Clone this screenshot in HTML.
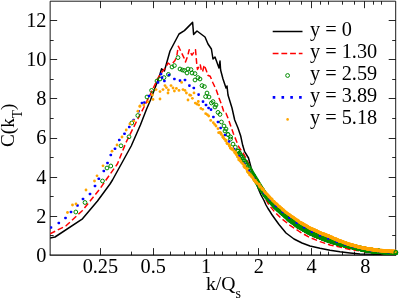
<!DOCTYPE html>
<html><head><meta charset="utf-8"><title>C(kT) vs k/Qs</title>
<style>
html,body{margin:0;padding:0;background:#fff;}
body{width:399px;height:300px;overflow:hidden;position:relative;font-family:"Liberation Serif",serif;}
</style></head><body>
<svg width="399" height="300" viewBox="0 0 399 300" style="position:absolute;left:0;top:0;will-change:transform">
<rect x="0" y="0" width="399" height="300" fill="#fff"/>
<g stroke="#000" stroke-width="1" fill="none">
<path d="M50.15 255.1V1.2H395.7V255.1" stroke-width="0.9"/>
<g stroke-width="0.85">
<path d="M49.65 255.1H396.2" stroke-width="1.15"/>
<path d="M100.5 255.1v-7M100.5 1.2v7"/>
<path d="M153.5 255.1v-7M153.5 1.2v7"/>
<path d="M206.5 255.1v-7M206.5 1.2v7"/>
<path d="M258.5 255.1v-7M258.5 1.2v7"/>
<path d="M311.5 255.1v-7M311.5 1.2v7"/>
<path d="M364.5 255.1v-7M364.5 1.2v7"/>
<path d="M131.5 255.1v-3.5M131.5 1.2v3.5"/>
<path d="M170.5 255.1v-3.5M170.5 1.2v3.5"/>
<path d="M184.5 255.1v-3.5M184.5 1.2v3.5"/>
<path d="M195.5 255.1v-3.5M195.5 1.2v3.5"/>
<path d="M214.5 255.1v-3.5M214.5 1.2v3.5"/>
<path d="M222.5 255.1v-3.5M222.5 1.2v3.5"/>
<path d="M236.5 255.1v-3.5M236.5 1.2v3.5"/>
<path d="M248.5 255.1v-3.5M248.5 1.2v3.5"/>
<path d="M267.5 255.1v-3.5M267.5 1.2v3.5"/>
<path d="M275.5 255.1v-3.5M275.5 1.2v3.5"/>
<path d="M289.5 255.1v-3.5M289.5 1.2v3.5"/>
<path d="M301.5 255.1v-3.5M301.5 1.2v3.5"/>
<path d="M320.5 255.1v-3.5M320.5 1.2v3.5"/>
<path d="M328.5 255.1v-3.5M328.5 1.2v3.5"/>
<path d="M342.5 255.1v-3.5M342.5 1.2v3.5"/>
<path d="M354.5 255.1v-3.5M354.5 1.2v3.5"/>
<path d="M373.5 255.1v-3.5M373.5 1.2v3.5"/>
<path d="M381.5 255.1v-3.5M381.5 1.2v3.5"/>
<path d="M50.15 235.5h3.5M395.7 235.5h-3.5"/>
<path d="M50.15 216.5h7M395.7 216.5h-7"/>
<path d="M50.15 196.5h3.5M395.7 196.5h-3.5"/>
<path d="M50.15 177.5h7M395.7 177.5h-7"/>
<path d="M50.15 157.5h3.5M395.7 157.5h-3.5"/>
<path d="M50.15 138.5h7M395.7 138.5h-7"/>
<path d="M50.15 118.5h3.5M395.7 118.5h-3.5"/>
<path d="M50.15 98.5h7M395.7 98.5h-7"/>
<path d="M50.15 79.5h3.5M395.7 79.5h-3.5"/>
<path d="M50.15 59.5h7M395.7 59.5h-7"/>
<path d="M50.15 40.5h3.5M395.7 40.5h-3.5"/>
<path d="M50.15 20.5h7M395.7 20.5h-7"/>
</g></g>
<clipPath id="c"><rect x="50.15" y="1.2" width="348.55" height="253.9"/></clipPath>
<g clip-path="url(#c)">
<polyline fill="none" stroke="#000" stroke-width="1.5" stroke-linejoin="round" points="50.0,238.0 55.0,237.0 82.5,218.8 97.5,201.0 110.0,184.0 112.5,180.0 131.2,146.0 140.4,125.0 146.6,109.0 150.5,100.0 158.0,80.0 160.0,74.0 161.6,68.8 164.4,71.0 170.0,51.0 179.0,34.0 184.4,30.6 192.6,22.4 193.6,34.4 197.0,31.0 205.0,37.0 208.0,44.0 211.4,49.0 213.0,59.0 215.0,57.0 219.0,68.0 220.0,61.0 220.6,70.0 223.0,79.0 226.0,88.0 227.0,86.0 228.0,95.0 232.0,108.0 234.7,120.0 238.0,128.0 240.7,136.0 242.7,145.3 244.5,151.3 248.5,158.0 251.2,168.0 254.0,175.0 258.0,188.0 261.0,195.0 264.0,200.5 266.0,205.0 268.0,208.5 270.0,211.5 272.0,214.8 275.0,219.0 279.0,224.5 286.0,233.0 294.0,239.0 302.0,243.0 310.0,246.0 320.0,248.3 330.0,250.2 340.0,251.8 350.0,253.0 360.0,254.0 396.0,254.6"/>
<polyline fill="none" stroke="#f00" stroke-width="1.5" stroke-linejoin="round" stroke-dasharray="5.8 2.9" points="50.0,233.8 66.0,225.8 82.5,210.5 100.0,188.8 106.0,180.0 117.5,163.8 126.0,142.5 136.0,122.5 143.8,107.5 150.0,95.0 158.0,78.0 162.0,72.0 166.0,67.0 168.0,63.0 170.0,64.5 172.7,63.2 175.0,60.5 176.8,56.0 177.7,50.0 178.3,46.2 180.2,50.0 184.0,57.8 185.5,62.0 187.7,56.0 189.2,49.7 190.0,51.8 192.0,55.2 195.5,49.7 196.7,63.5 197.5,69.5 200.2,64.2 201.2,69.5 202.5,72.0 204.2,65.0 206.5,71.0 207.7,75.2 210.2,76.2 213.0,83.0 216.3,90.0 219.0,98.0 221.6,104.7 223.5,110.7 224.3,113.0 226.0,113.3 228.2,118.7 230.3,124.7 233.3,133.3 236.0,140.0 238.7,146.7 243.3,153.3 245.5,157.3 248.3,163.0 253.3,174.0 258.0,184.0 265.0,198.0 269.0,205.0 275.0,212.3 281.0,218.2 288.0,223.7 290.0,225.3 300.0,232.0 310.0,237.6 320.0,241.6 330.0,245.0 340.0,247.0 350.0,249.4 360.0,251.0 370.0,252.3 380.0,253.2 396.0,254.0"/>
<g fill="none" stroke="#008b00" stroke-width="1.15">
<circle cx="75.8" cy="212.0" r="1.90" stroke-width="1"/>
<circle cx="85.0" cy="202.5" r="1.90" stroke-width="1"/>
<circle cx="102.5" cy="181.0" r="1.90" stroke-width="1"/>
<circle cx="107.0" cy="168.0" r="1.90" stroke-width="1"/>
<circle cx="110.8" cy="166.0" r="1.90" stroke-width="1"/>
<circle cx="121.0" cy="145.8" r="1.90" stroke-width="1"/>
<circle cx="129.0" cy="136.8" r="1.90" stroke-width="1"/>
<circle cx="131.8" cy="123.0" r="1.90" stroke-width="1"/>
<circle cx="137.8" cy="115.5" r="1.90" stroke-width="1"/>
<circle cx="147.0" cy="97.0" r="1.90" stroke-width="1"/>
<circle cx="151.6" cy="90.4" r="1.90" stroke-width="1"/>
<circle cx="157.0" cy="81.0" r="1.90" stroke-width="1"/>
<circle cx="160.0" cy="79.0" r="1.90" stroke-width="1"/>
<circle cx="164.0" cy="77.6" r="1.90" stroke-width="1"/>
<circle cx="168.4" cy="74.4" r="1.90" stroke-width="1"/>
<circle cx="172.0" cy="67.0" r="1.90" stroke-width="1"/>
<circle cx="174.4" cy="65.6" r="1.90" stroke-width="1"/>
<circle cx="178.0" cy="57.6" r="1.90" stroke-width="1"/>
<circle cx="180.0" cy="69.0" r="1.90" stroke-width="1"/>
<circle cx="182.4" cy="70.0" r="1.90" stroke-width="1"/>
<circle cx="184.4" cy="70.4" r="1.90" stroke-width="1"/>
<circle cx="187.0" cy="73.0" r="1.90" stroke-width="1"/>
<circle cx="188.0" cy="69.0" r="1.90" stroke-width="1"/>
<circle cx="191.0" cy="69.6" r="1.90" stroke-width="1"/>
<circle cx="192.0" cy="73.0" r="1.90" stroke-width="1"/>
<circle cx="195.0" cy="73.6" r="1.90" stroke-width="1"/>
<circle cx="195.0" cy="80.0" r="1.90" stroke-width="1"/>
<circle cx="198.0" cy="77.6" r="1.90" stroke-width="1"/>
<circle cx="200.0" cy="79.0" r="1.90" stroke-width="1"/>
<circle cx="202.0" cy="85.6" r="1.90" stroke-width="1"/>
<circle cx="204.4" cy="86.6" r="1.90" stroke-width="1"/>
<circle cx="207.0" cy="93.0" r="1.90" stroke-width="1"/>
<circle cx="205.6" cy="96.6" r="1.90" stroke-width="1"/>
<circle cx="209.0" cy="97.0" r="1.90" stroke-width="1"/>
<circle cx="213.0" cy="101.6" r="1.90" stroke-width="1"/>
<circle cx="211.4" cy="103.0" r="1.90" stroke-width="1"/>
<circle cx="216.0" cy="105.0" r="1.90" stroke-width="1"/>
<circle cx="215.0" cy="107.0" r="1.90" stroke-width="1"/>
<circle cx="218.0" cy="112.4" r="1.90" stroke-width="1"/>
<circle cx="220.0" cy="114.4" r="1.90" stroke-width="1"/>
<circle cx="221.4" cy="122.0" r="1.90" stroke-width="1"/>
<circle cx="224.0" cy="126.0" r="1.90" stroke-width="1"/>
<circle cx="226.0" cy="129.0" r="1.90" stroke-width="1"/>
<circle cx="225.0" cy="131.0" r="1.90" stroke-width="1"/>
<circle cx="228.0" cy="134.4" r="1.90" stroke-width="1"/>
<circle cx="230.6" cy="137.0" r="1.90" stroke-width="1"/>
<circle cx="228.0" cy="134.6" r="1.90" stroke-width="1"/>
<circle cx="230.5" cy="139.1" r="1.90" stroke-width="1"/>
<circle cx="233.0" cy="144.1" r="1.90" stroke-width="1"/>
<circle cx="235.3" cy="147.2" r="1.90" stroke-width="1"/>
<circle cx="237.6" cy="151.0" r="2.00"/>
<circle cx="238.0" cy="151.4" r="2.00"/>
<circle cx="239.4" cy="153.3" r="2.00"/>
<circle cx="240.8" cy="155.6" r="2.00"/>
<circle cx="242.1" cy="157.4" r="2.00"/>
<circle cx="243.4" cy="159.6" r="2.00"/>
<circle cx="244.7" cy="161.3" r="2.00"/>
<circle cx="246.0" cy="163.2" r="2.00"/>
<circle cx="247.2" cy="165.3" r="2.00"/>
<circle cx="248.5" cy="167.6" r="2.00"/>
<circle cx="249.7" cy="169.2" r="2.00"/>
<circle cx="250.9" cy="171.3" r="2.00"/>
<circle cx="252.0" cy="173.4" r="2.00"/>
<circle cx="252.6" cy="174.6" r="2.00"/>
<circle cx="253.2" cy="175.4" r="2.00"/>
<circle cx="253.9" cy="176.4" r="2.00"/>
<circle cx="254.5" cy="177.7" r="2.00"/>
<circle cx="255.1" cy="178.3" r="2.00"/>
<circle cx="255.7" cy="179.7" r="2.00"/>
<circle cx="256.3" cy="180.4" r="2.00"/>
<circle cx="256.8" cy="181.4" r="2.00"/>
<circle cx="257.4" cy="182.3" r="2.00"/>
<circle cx="258.0" cy="183.4" r="2.00"/>
<circle cx="258.6" cy="184.6" r="2.00"/>
<circle cx="259.1" cy="185.1" r="2.00"/>
<circle cx="259.7" cy="186.2" r="2.00"/>
<circle cx="260.3" cy="187.2" r="2.00"/>
<circle cx="260.8" cy="187.9" r="2.00"/>
<circle cx="261.4" cy="188.9" r="2.00"/>
<circle cx="261.9" cy="189.5" r="2.00"/>
<circle cx="262.5" cy="190.3" r="2.00"/>
<circle cx="263.0" cy="191.3" r="2.00"/>
<circle cx="263.6" cy="192.3" r="2.00"/>
<circle cx="264.1" cy="193.1" r="2.00"/>
<circle cx="264.6" cy="193.8" r="2.00"/>
<circle cx="265.2" cy="194.7" r="2.00"/>
<circle cx="265.7" cy="195.3" r="2.00"/>
<circle cx="266.2" cy="195.8" r="2.00"/>
<circle cx="266.7" cy="196.7" r="2.00"/>
<circle cx="267.2" cy="197.2" r="2.00"/>
<circle cx="267.7" cy="197.6" r="2.00"/>
<circle cx="268.3" cy="198.3" r="2.00"/>
<circle cx="268.8" cy="198.9" r="2.00"/>
<circle cx="269.3" cy="199.7" r="2.00"/>
<circle cx="269.8" cy="200.2" r="2.00"/>
<circle cx="270.2" cy="200.5" r="2.00"/>
<circle cx="270.7" cy="201.4" r="2.00"/>
<circle cx="271.2" cy="201.6" r="2.00"/>
<circle cx="271.7" cy="202.3" r="2.00"/>
<circle cx="272.2" cy="203.0" r="2.00"/>
<circle cx="272.7" cy="203.3" r="2.00"/>
<circle cx="273.1" cy="204.0" r="2.00"/>
<circle cx="273.6" cy="204.3" r="2.00"/>
<circle cx="274.1" cy="205.2" r="2.00"/>
<circle cx="274.5" cy="205.8" r="2.00"/>
<circle cx="275.0" cy="206.2" r="2.00"/>
<circle cx="275.5" cy="206.8" r="2.00"/>
<circle cx="275.9" cy="206.9" r="2.00"/>
<circle cx="276.4" cy="207.5" r="2.00"/>
<circle cx="276.8" cy="207.9" r="2.00"/>
<circle cx="277.3" cy="208.3" r="2.00"/>
<circle cx="277.7" cy="208.6" r="2.00"/>
<circle cx="278.2" cy="209.2" r="2.00"/>
<circle cx="278.6" cy="209.7" r="2.00"/>
<circle cx="279.1" cy="209.8" r="2.00"/>
<circle cx="279.5" cy="210.3" r="2.00"/>
<circle cx="279.9" cy="210.4" r="2.00"/>
<circle cx="280.4" cy="211.1" r="2.00"/>
<circle cx="280.8" cy="211.5" r="2.00"/>
<circle cx="281.2" cy="212.0" r="2.00"/>
<circle cx="281.6" cy="212.3" r="2.00"/>
<circle cx="282.1" cy="212.4" r="2.00"/>
<circle cx="282.5" cy="212.9" r="2.00"/>
<circle cx="282.9" cy="213.4" r="2.00"/>
<circle cx="283.3" cy="213.4" r="2.00"/>
<circle cx="283.7" cy="214.0" r="2.00"/>
<circle cx="284.1" cy="214.3" r="2.00"/>
<circle cx="284.5" cy="214.6" r="2.00"/>
<circle cx="285.0" cy="214.9" r="2.00"/>
<circle cx="285.4" cy="215.7" r="2.00"/>
<circle cx="285.8" cy="215.7" r="2.00"/>
<circle cx="286.2" cy="216.1" r="2.00"/>
<circle cx="286.6" cy="216.5" r="2.00"/>
<circle cx="287.0" cy="217.1" r="2.00"/>
<circle cx="287.3" cy="217.1" r="2.00"/>
<circle cx="287.7" cy="217.6" r="2.00"/>
<circle cx="288.1" cy="218.0" r="2.00"/>
<circle cx="288.5" cy="218.6" r="2.00"/>
<circle cx="288.9" cy="218.9" r="2.00"/>
<circle cx="289.3" cy="219.2" r="2.00"/>
<circle cx="289.7" cy="219.3" r="2.00"/>
<circle cx="290.0" cy="219.7" r="2.00"/>
<circle cx="290.4" cy="219.9" r="2.00"/>
<circle cx="290.8" cy="220.5" r="2.00"/>
<circle cx="291.2" cy="220.8" r="2.00"/>
<circle cx="291.5" cy="220.7" r="2.00"/>
<circle cx="291.9" cy="220.9" r="2.00"/>
<circle cx="292.3" cy="221.2" r="2.00"/>
<circle cx="292.7" cy="221.5" r="2.00"/>
<circle cx="293.0" cy="221.9" r="2.00"/>
<circle cx="293.4" cy="222.2" r="2.00"/>
<circle cx="293.7" cy="222.3" r="2.00"/>
<circle cx="294.1" cy="222.4" r="2.00"/>
<circle cx="294.5" cy="222.9" r="2.00"/>
<circle cx="294.8" cy="223.2" r="2.00"/>
<circle cx="295.2" cy="223.5" r="2.00"/>
<circle cx="295.5" cy="224.0" r="2.00"/>
<circle cx="295.9" cy="224.1" r="2.00"/>
<circle cx="296.2" cy="224.3" r="2.00"/>
<circle cx="296.6" cy="224.6" r="2.00"/>
<circle cx="296.9" cy="224.8" r="2.00"/>
<circle cx="297.3" cy="224.8" r="2.00"/>
<circle cx="297.6" cy="225.5" r="2.00"/>
<circle cx="298.0" cy="225.7" r="2.00"/>
<circle cx="298.3" cy="225.9" r="2.00"/>
<circle cx="298.6" cy="226.2" r="2.00"/>
<circle cx="299.0" cy="226.2" r="2.00"/>
<circle cx="299.3" cy="226.4" r="2.00"/>
<circle cx="299.6" cy="226.5" r="2.00"/>
<circle cx="300.0" cy="227.1" r="2.00"/>
<circle cx="300.3" cy="227.0" r="2.00"/>
<circle cx="300.6" cy="227.1" r="2.00"/>
<circle cx="301.0" cy="227.4" r="2.00"/>
<circle cx="301.3" cy="227.5" r="2.00"/>
<circle cx="301.6" cy="227.8" r="2.00"/>
<circle cx="302.0" cy="227.9" r="2.00"/>
<circle cx="302.3" cy="228.0" r="2.00"/>
<circle cx="302.6" cy="228.3" r="2.00"/>
<circle cx="302.9" cy="228.4" r="2.00"/>
<circle cx="303.2" cy="228.7" r="2.00"/>
<circle cx="303.6" cy="228.7" r="2.00"/>
<circle cx="303.9" cy="229.3" r="2.00"/>
<circle cx="304.2" cy="229.4" r="2.00"/>
<circle cx="304.5" cy="229.3" r="2.00"/>
<circle cx="304.8" cy="229.5" r="2.00"/>
<circle cx="305.1" cy="229.7" r="2.00"/>
<circle cx="305.4" cy="229.9" r="2.00"/>
<circle cx="305.7" cy="230.0" r="2.00"/>
<circle cx="306.1" cy="230.5" r="2.00"/>
<circle cx="306.4" cy="230.7" r="2.00"/>
<circle cx="306.7" cy="230.7" r="2.00"/>
<circle cx="307.0" cy="230.8" r="2.00"/>
<circle cx="307.3" cy="230.8" r="2.00"/>
<circle cx="307.6" cy="231.0" r="2.00"/>
<circle cx="307.9" cy="231.3" r="2.00"/>
<circle cx="308.2" cy="231.4" r="2.00"/>
<circle cx="308.5" cy="231.8" r="2.00"/>
<circle cx="308.8" cy="231.7" r="2.00"/>
<circle cx="309.1" cy="231.7" r="2.00"/>
<circle cx="309.4" cy="232.4" r="2.00"/>
<circle cx="309.7" cy="232.3" r="2.00"/>
<circle cx="309.9" cy="232.3" r="2.00"/>
<circle cx="310.2" cy="232.6" r="2.00"/>
<circle cx="310.5" cy="232.5" r="2.00"/>
<circle cx="310.8" cy="232.9" r="2.00"/>
<circle cx="311.1" cy="233.2" r="2.00"/>
<circle cx="311.4" cy="233.3" r="2.00"/>
<circle cx="311.7" cy="233.3" r="2.00"/>
<circle cx="312.0" cy="233.2" r="2.00"/>
<circle cx="312.2" cy="233.4" r="2.00"/>
<circle cx="312.5" cy="233.4" r="2.00"/>
<circle cx="312.8" cy="233.8" r="2.00"/>
<circle cx="313.1" cy="233.8" r="2.00"/>
<circle cx="313.4" cy="234.1" r="2.00"/>
<circle cx="313.7" cy="234.0" r="2.00"/>
<circle cx="313.9" cy="234.1" r="2.00"/>
<circle cx="314.2" cy="234.5" r="2.00"/>
<circle cx="314.5" cy="234.7" r="2.00"/>
<circle cx="314.8" cy="234.7" r="2.00"/>
<circle cx="315.0" cy="234.8" r="2.00"/>
<circle cx="315.3" cy="234.9" r="2.00"/>
<circle cx="315.6" cy="235.0" r="2.00"/>
<circle cx="315.8" cy="234.9" r="2.00"/>
<circle cx="316.1" cy="235.1" r="2.00"/>
<circle cx="316.4" cy="235.2" r="2.00"/>
<circle cx="316.7" cy="235.1" r="2.00"/>
<circle cx="316.9" cy="235.2" r="2.00"/>
<circle cx="317.2" cy="235.5" r="2.00"/>
<circle cx="317.4" cy="235.6" r="2.00"/>
<circle cx="317.7" cy="235.9" r="2.00"/>
<circle cx="318.0" cy="236.2" r="2.00"/>
<circle cx="318.2" cy="236.0" r="2.00"/>
<circle cx="318.5" cy="236.4" r="2.00"/>
<circle cx="318.8" cy="236.5" r="2.00"/>
<circle cx="319.0" cy="236.6" r="2.00"/>
<circle cx="319.3" cy="236.4" r="2.00"/>
<circle cx="319.5" cy="236.5" r="2.00"/>
<circle cx="319.8" cy="236.6" r="2.00"/>
<circle cx="320.0" cy="236.7" r="2.00"/>
<circle cx="320.3" cy="236.8" r="2.00"/>
<circle cx="320.6" cy="237.1" r="2.00"/>
<circle cx="320.8" cy="237.3" r="2.00"/>
<circle cx="321.1" cy="237.4" r="2.00"/>
<circle cx="321.3" cy="237.3" r="2.00"/>
<circle cx="321.6" cy="237.5" r="2.00"/>
<circle cx="321.8" cy="237.6" r="2.00"/>
<circle cx="322.1" cy="237.4" r="2.00"/>
<circle cx="322.3" cy="237.7" r="2.00"/>
<circle cx="322.6" cy="238.0" r="2.00"/>
<circle cx="322.8" cy="238.0" r="2.00"/>
<circle cx="323.1" cy="238.1" r="2.00"/>
<circle cx="323.3" cy="238.0" r="2.00"/>
<circle cx="323.5" cy="238.0" r="2.00"/>
<circle cx="323.8" cy="238.3" r="2.00"/>
<circle cx="324.0" cy="238.2" r="2.00"/>
<circle cx="324.3" cy="238.5" r="2.00"/>
<circle cx="324.5" cy="238.7" r="2.00"/>
<circle cx="324.8" cy="238.5" r="2.00"/>
<circle cx="325.0" cy="238.6" r="2.00"/>
<circle cx="325.2" cy="239.0" r="2.00"/>
<circle cx="325.5" cy="238.9" r="2.00"/>
<circle cx="325.7" cy="238.7" r="2.00"/>
<circle cx="326.0" cy="238.8" r="2.00"/>
<circle cx="326.2" cy="238.9" r="2.00"/>
<circle cx="326.4" cy="239.4" r="2.00"/>
<circle cx="326.7" cy="239.4" r="2.00"/>
<circle cx="326.9" cy="239.2" r="2.00"/>
<circle cx="327.1" cy="239.6" r="2.00"/>
<circle cx="327.4" cy="239.8" r="2.00"/>
<circle cx="327.6" cy="239.7" r="2.00"/>
<circle cx="327.8" cy="239.6" r="2.00"/>
<circle cx="328.1" cy="239.8" r="2.00"/>
<circle cx="328.3" cy="239.7" r="2.00"/>
<circle cx="328.5" cy="239.7" r="2.00"/>
<circle cx="328.7" cy="240.3" r="2.00"/>
<circle cx="329.0" cy="240.2" r="2.00"/>
<circle cx="329.2" cy="240.2" r="2.00"/>
<circle cx="329.4" cy="240.5" r="2.00"/>
<circle cx="329.6" cy="240.3" r="2.00"/>
<circle cx="329.9" cy="240.6" r="2.00"/>
<circle cx="330.1" cy="240.7" r="2.00"/>
<circle cx="330.3" cy="240.5" r="2.00"/>
<circle cx="330.5" cy="240.5" r="2.00"/>
<circle cx="330.8" cy="240.6" r="2.00"/>
<circle cx="331.0" cy="240.7" r="2.00"/>
<circle cx="331.2" cy="240.9" r="2.00"/>
<circle cx="331.4" cy="240.8" r="2.00"/>
<circle cx="331.6" cy="241.0" r="2.00"/>
<circle cx="331.9" cy="240.9" r="2.00"/>
<circle cx="332.1" cy="241.4" r="2.00"/>
<circle cx="332.3" cy="241.1" r="2.00"/>
<circle cx="332.5" cy="241.3" r="2.00"/>
<circle cx="332.7" cy="241.4" r="2.00"/>
<circle cx="333.0" cy="241.6" r="2.00"/>
<circle cx="333.2" cy="241.4" r="2.00"/>
<circle cx="333.4" cy="241.8" r="2.00"/>
<circle cx="333.6" cy="241.6" r="2.00"/>
<circle cx="333.8" cy="241.7" r="2.00"/>
<circle cx="334.0" cy="241.8" r="2.00"/>
<circle cx="334.2" cy="241.6" r="2.00"/>
<circle cx="334.4" cy="241.8" r="2.00"/>
<circle cx="334.7" cy="241.8" r="2.00"/>
<circle cx="334.9" cy="241.8" r="2.00"/>
<circle cx="335.1" cy="242.2" r="2.00"/>
<circle cx="335.3" cy="242.0" r="2.00"/>
<circle cx="335.5" cy="242.2" r="2.00"/>
<circle cx="335.7" cy="242.4" r="2.00"/>
<circle cx="335.9" cy="242.4" r="2.00"/>
<circle cx="336.1" cy="242.3" r="2.00"/>
<circle cx="336.3" cy="242.5" r="2.00"/>
<circle cx="336.5" cy="242.6" r="2.00"/>
<circle cx="336.7" cy="242.7" r="2.00"/>
<circle cx="336.9" cy="242.5" r="2.00"/>
<circle cx="337.2" cy="242.7" r="2.00"/>
<circle cx="337.4" cy="242.7" r="2.00"/>
<circle cx="337.6" cy="242.7" r="2.00"/>
<circle cx="337.8" cy="243.0" r="2.00"/>
<circle cx="338.0" cy="243.0" r="2.00"/>
<circle cx="338.2" cy="243.1" r="2.00"/>
<circle cx="338.4" cy="243.2" r="2.00"/>
<circle cx="338.6" cy="243.4" r="2.00"/>
<circle cx="338.8" cy="243.2" r="2.00"/>
<circle cx="339.0" cy="243.3" r="2.00"/>
<circle cx="339.2" cy="243.3" r="2.00"/>
<circle cx="339.4" cy="243.4" r="2.00"/>
<circle cx="339.6" cy="243.6" r="2.00"/>
<circle cx="339.8" cy="243.5" r="2.00"/>
<circle cx="340.0" cy="243.6" r="2.00"/>
<circle cx="340.2" cy="243.6" r="2.00"/>
<circle cx="340.4" cy="243.9" r="2.00"/>
<circle cx="340.5" cy="243.8" r="2.00"/>
<circle cx="340.7" cy="244.0" r="2.00"/>
<circle cx="340.9" cy="244.0" r="2.00"/>
<circle cx="341.1" cy="243.7" r="2.00"/>
<circle cx="341.3" cy="243.9" r="2.00"/>
<circle cx="341.5" cy="244.2" r="2.00"/>
<circle cx="341.7" cy="244.2" r="2.00"/>
<circle cx="341.9" cy="243.9" r="2.00"/>
<circle cx="342.1" cy="243.9" r="2.00"/>
<circle cx="342.3" cy="244.1" r="2.00"/>
<circle cx="342.5" cy="244.0" r="2.00"/>
<circle cx="342.7" cy="244.1" r="2.00"/>
<circle cx="342.9" cy="244.0" r="2.00"/>
<circle cx="343.0" cy="244.4" r="2.00"/>
<circle cx="343.2" cy="244.5" r="2.00"/>
<circle cx="343.4" cy="244.6" r="2.00"/>
<circle cx="343.6" cy="244.3" r="2.00"/>
<circle cx="343.8" cy="244.6" r="2.00"/>
<circle cx="344.0" cy="244.6" r="2.00"/>
<circle cx="344.2" cy="244.4" r="2.00"/>
<circle cx="344.4" cy="244.8" r="2.00"/>
<circle cx="344.5" cy="244.9" r="2.00"/>
<circle cx="344.7" cy="244.5" r="2.00"/>
<circle cx="344.9" cy="245.0" r="2.00"/>
<circle cx="345.1" cy="244.7" r="2.00"/>
<circle cx="345.3" cy="244.8" r="2.00"/>
<circle cx="345.5" cy="245.1" r="2.00"/>
<circle cx="345.6" cy="245.1" r="2.00"/>
<circle cx="345.8" cy="244.8" r="2.00"/>
<circle cx="346.0" cy="244.9" r="2.00"/>
<circle cx="346.2" cy="245.0" r="2.00"/>
<circle cx="346.4" cy="245.0" r="2.00"/>
<circle cx="346.6" cy="245.0" r="2.00"/>
<circle cx="346.7" cy="245.1" r="2.00"/>
<circle cx="346.9" cy="245.3" r="2.00"/>
<circle cx="347.1" cy="245.0" r="2.00"/>
<circle cx="347.3" cy="245.3" r="2.00"/>
<circle cx="347.5" cy="245.3" r="2.00"/>
<circle cx="347.6" cy="245.1" r="2.00"/>
<circle cx="347.8" cy="245.3" r="2.00"/>
<circle cx="348.0" cy="245.5" r="2.00"/>
<circle cx="348.2" cy="245.5" r="2.00"/>
<circle cx="348.3" cy="245.3" r="2.00"/>
<circle cx="348.5" cy="245.8" r="2.00"/>
<circle cx="348.7" cy="245.7" r="2.00"/>
<circle cx="348.9" cy="245.9" r="2.00"/>
<circle cx="349.0" cy="245.5" r="2.00"/>
<circle cx="349.2" cy="245.6" r="2.00"/>
<circle cx="349.4" cy="245.5" r="2.00"/>
<circle cx="349.6" cy="245.9" r="2.00"/>
<circle cx="349.7" cy="245.7" r="2.00"/>
<circle cx="349.9" cy="245.7" r="2.00"/>
<circle cx="350.1" cy="245.9" r="2.00"/>
<circle cx="350.3" cy="246.2" r="2.00"/>
<circle cx="350.4" cy="246.2" r="2.00"/>
<circle cx="350.6" cy="245.9" r="2.00"/>
<circle cx="350.8" cy="245.9" r="2.00"/>
<circle cx="350.9" cy="246.3" r="2.00"/>
<circle cx="351.1" cy="246.2" r="2.00"/>
<circle cx="351.3" cy="246.3" r="2.00"/>
<circle cx="351.4" cy="246.1" r="2.00"/>
<circle cx="351.6" cy="246.1" r="2.00"/>
<circle cx="351.8" cy="246.5" r="2.00"/>
<circle cx="352.0" cy="246.4" r="2.00"/>
<circle cx="352.1" cy="246.2" r="2.00"/>
<circle cx="352.3" cy="246.7" r="2.00"/>
<circle cx="352.5" cy="246.6" r="2.00"/>
<circle cx="352.6" cy="246.7" r="2.00"/>
<circle cx="352.8" cy="246.4" r="2.00"/>
<circle cx="353.0" cy="246.8" r="2.00"/>
<circle cx="353.1" cy="246.5" r="2.00"/>
<circle cx="353.3" cy="246.9" r="2.00"/>
<circle cx="353.5" cy="246.8" r="2.00"/>
<circle cx="353.6" cy="246.7" r="2.00"/>
<circle cx="353.8" cy="246.9" r="2.00"/>
<circle cx="353.9" cy="247.1" r="2.00"/>
<circle cx="354.1" cy="246.8" r="2.00"/>
<circle cx="354.3" cy="246.8" r="2.00"/>
<circle cx="354.4" cy="247.0" r="2.00"/>
<circle cx="354.6" cy="246.9" r="2.00"/>
<circle cx="354.8" cy="246.9" r="2.00"/>
<circle cx="354.9" cy="247.0" r="2.00"/>
<circle cx="355.1" cy="247.0" r="2.00"/>
<circle cx="355.2" cy="247.1" r="2.00"/>
<circle cx="355.4" cy="247.2" r="2.00"/>
<circle cx="355.6" cy="247.2" r="2.00"/>
<circle cx="355.7" cy="247.5" r="2.00"/>
<circle cx="355.9" cy="247.3" r="2.00"/>
<circle cx="356.0" cy="247.4" r="2.00"/>
<circle cx="356.2" cy="247.3" r="2.00"/>
<circle cx="356.4" cy="247.5" r="2.00"/>
<circle cx="356.5" cy="247.3" r="2.00"/>
<circle cx="356.7" cy="247.5" r="2.00"/>
<circle cx="356.8" cy="247.4" r="2.00"/>
<circle cx="357.0" cy="247.8" r="2.00"/>
<circle cx="357.2" cy="247.8" r="2.00"/>
<circle cx="357.3" cy="247.6" r="2.00"/>
<circle cx="357.5" cy="247.8" r="2.00"/>
<circle cx="357.6" cy="248.1" r="2.00"/>
<circle cx="357.8" cy="247.7" r="2.00"/>
<circle cx="357.9" cy="248.1" r="2.00"/>
<circle cx="358.1" cy="247.9" r="2.00"/>
<circle cx="358.2" cy="248.0" r="2.00"/>
<circle cx="358.4" cy="248.2" r="2.00"/>
<circle cx="358.6" cy="248.0" r="2.00"/>
<circle cx="358.7" cy="248.1" r="2.00"/>
<circle cx="358.9" cy="248.3" r="2.00"/>
<circle cx="359.0" cy="248.4" r="2.00"/>
<circle cx="359.2" cy="248.2" r="2.00"/>
<circle cx="359.3" cy="248.4" r="2.00"/>
<circle cx="359.5" cy="248.4" r="2.00"/>
<circle cx="359.6" cy="248.4" r="2.00"/>
<circle cx="359.8" cy="248.3" r="2.00"/>
<circle cx="359.9" cy="248.3" r="2.00"/>
<circle cx="360.1" cy="248.2" r="2.00"/>
<circle cx="360.2" cy="248.3" r="2.00"/>
<circle cx="360.4" cy="248.3" r="2.00"/>
<circle cx="360.5" cy="248.6" r="2.00"/>
<circle cx="360.7" cy="248.4" r="2.00"/>
<circle cx="360.8" cy="248.4" r="2.00"/>
<circle cx="361.0" cy="248.4" r="2.00"/>
<circle cx="361.1" cy="248.8" r="2.00"/>
<circle cx="361.3" cy="248.8" r="2.00"/>
<circle cx="361.4" cy="248.8" r="2.00"/>
<circle cx="361.6" cy="248.6" r="2.00"/>
<circle cx="361.7" cy="248.6" r="2.00"/>
<circle cx="361.9" cy="248.7" r="2.00"/>
<circle cx="362.0" cy="248.8" r="2.00"/>
<circle cx="362.2" cy="248.7" r="2.00"/>
<circle cx="362.3" cy="248.8" r="2.00"/>
<circle cx="362.5" cy="248.8" r="2.00"/>
<circle cx="362.6" cy="249.2" r="2.00"/>
<circle cx="362.8" cy="249.2" r="2.00"/>
<circle cx="362.9" cy="249.0" r="2.00"/>
<circle cx="363.0" cy="248.9" r="2.00"/>
<circle cx="363.2" cy="249.3" r="2.00"/>
<circle cx="363.3" cy="249.0" r="2.00"/>
<circle cx="363.5" cy="249.0" r="2.00"/>
<circle cx="363.6" cy="248.9" r="2.00"/>
<circle cx="363.8" cy="249.1" r="2.00"/>
<circle cx="363.9" cy="249.2" r="2.00"/>
<circle cx="364.1" cy="249.2" r="2.00"/>
<circle cx="364.2" cy="249.1" r="2.00"/>
<circle cx="364.3" cy="249.3" r="2.00"/>
<circle cx="364.5" cy="249.0" r="2.00"/>
<circle cx="364.6" cy="249.2" r="2.00"/>
<circle cx="364.8" cy="249.1" r="2.00"/>
<circle cx="364.9" cy="249.3" r="2.00"/>
<circle cx="365.1" cy="249.2" r="2.00"/>
<circle cx="365.2" cy="249.2" r="2.00"/>
<circle cx="365.3" cy="249.4" r="2.00"/>
<circle cx="365.5" cy="249.4" r="2.00"/>
<circle cx="365.6" cy="249.6" r="2.00"/>
<circle cx="365.8" cy="249.6" r="2.00"/>
<circle cx="365.9" cy="249.7" r="2.00"/>
<circle cx="366.0" cy="249.7" r="2.00"/>
<circle cx="366.2" cy="249.7" r="2.00"/>
<circle cx="366.3" cy="249.9" r="2.00"/>
<circle cx="366.5" cy="249.6" r="2.00"/>
<circle cx="366.6" cy="249.6" r="2.00"/>
<circle cx="366.7" cy="250.0" r="2.00"/>
<circle cx="366.9" cy="249.6" r="2.00"/>
<circle cx="367.0" cy="249.9" r="2.00"/>
<circle cx="367.2" cy="249.9" r="2.00"/>
<circle cx="367.3" cy="249.6" r="2.00"/>
<circle cx="367.4" cy="250.1" r="2.00"/>
<circle cx="367.6" cy="250.1" r="2.00"/>
<circle cx="367.7" cy="250.0" r="2.00"/>
<circle cx="367.8" cy="250.1" r="2.00"/>
<circle cx="368.0" cy="250.2" r="2.00"/>
<circle cx="368.1" cy="249.8" r="2.00"/>
<circle cx="368.2" cy="250.1" r="2.00"/>
<circle cx="368.4" cy="250.1" r="2.00"/>
<circle cx="368.5" cy="250.3" r="2.00"/>
<circle cx="368.7" cy="250.3" r="2.00"/>
<circle cx="368.8" cy="250.3" r="2.00"/>
<circle cx="368.9" cy="250.2" r="2.00"/>
<circle cx="369.1" cy="250.4" r="2.00"/>
<circle cx="369.2" cy="250.3" r="2.00"/>
<circle cx="369.3" cy="250.3" r="2.00"/>
<circle cx="369.5" cy="250.1" r="2.00"/>
<circle cx="369.6" cy="250.0" r="2.00"/>
<circle cx="369.7" cy="250.1" r="2.00"/>
<circle cx="369.9" cy="250.2" r="2.00"/>
<circle cx="370.0" cy="250.1" r="2.00"/>
<circle cx="370.1" cy="250.5" r="2.00"/>
<circle cx="370.3" cy="250.4" r="2.00"/>
<circle cx="370.4" cy="250.4" r="2.00"/>
<circle cx="370.5" cy="250.4" r="2.00"/>
<circle cx="370.7" cy="250.5" r="2.00"/>
<circle cx="370.8" cy="250.4" r="2.00"/>
<circle cx="370.9" cy="250.2" r="2.00"/>
<circle cx="371.0" cy="250.6" r="2.00"/>
<circle cx="371.2" cy="250.6" r="2.00"/>
<circle cx="371.3" cy="250.5" r="2.00"/>
<circle cx="371.4" cy="250.5" r="2.00"/>
<circle cx="371.6" cy="250.6" r="2.00"/>
<circle cx="371.7" cy="250.3" r="2.00"/>
<circle cx="371.8" cy="250.7" r="2.00"/>
<circle cx="372.0" cy="250.4" r="2.00"/>
<circle cx="372.1" cy="250.4" r="2.00"/>
<circle cx="372.2" cy="250.5" r="2.00"/>
<circle cx="372.3" cy="250.7" r="2.00"/>
<circle cx="372.5" cy="250.5" r="2.00"/>
<circle cx="372.6" cy="250.8" r="2.00"/>
<circle cx="372.7" cy="250.9" r="2.00"/>
<circle cx="372.9" cy="250.7" r="2.00"/>
<circle cx="373.0" cy="250.6" r="2.00"/>
<circle cx="373.1" cy="250.7" r="2.00"/>
<circle cx="373.2" cy="250.8" r="2.00"/>
<circle cx="373.4" cy="250.9" r="2.00"/>
<circle cx="373.5" cy="250.8" r="2.00"/>
<circle cx="373.6" cy="250.8" r="2.00"/>
<circle cx="373.7" cy="250.6" r="2.00"/>
<circle cx="373.9" cy="250.6" r="2.00"/>
<circle cx="374.0" cy="250.7" r="2.00"/>
<circle cx="374.1" cy="250.9" r="2.00"/>
<circle cx="374.2" cy="250.7" r="2.00"/>
<circle cx="374.4" cy="250.9" r="2.00"/>
<circle cx="374.5" cy="250.6" r="2.00"/>
<circle cx="374.6" cy="250.7" r="2.00"/>
<circle cx="374.7" cy="250.8" r="2.00"/>
<circle cx="374.9" cy="251.0" r="2.00"/>
<circle cx="375.0" cy="251.0" r="2.00"/>
<circle cx="375.1" cy="251.0" r="2.00"/>
<circle cx="375.2" cy="250.8" r="2.00"/>
<circle cx="375.4" cy="251.0" r="2.00"/>
<circle cx="375.5" cy="251.0" r="2.00"/>
<circle cx="375.6" cy="251.0" r="2.00"/>
<circle cx="375.7" cy="250.8" r="2.00"/>
<circle cx="375.9" cy="251.2" r="2.00"/>
<circle cx="376.0" cy="250.9" r="2.00"/>
<circle cx="376.1" cy="251.3" r="2.00"/>
<circle cx="376.2" cy="251.3" r="2.00"/>
<circle cx="376.4" cy="250.8" r="2.00"/>
<circle cx="376.5" cy="251.1" r="2.00"/>
<circle cx="376.6" cy="251.3" r="2.00"/>
<circle cx="376.7" cy="251.4" r="2.00"/>
<circle cx="376.8" cy="251.1" r="2.00"/>
<circle cx="377.0" cy="251.0" r="2.00"/>
<circle cx="377.1" cy="251.0" r="2.00"/>
<circle cx="377.2" cy="251.4" r="2.00"/>
<circle cx="377.3" cy="251.1" r="2.00"/>
<circle cx="377.4" cy="251.3" r="2.00"/>
<circle cx="377.6" cy="251.0" r="2.00"/>
<circle cx="377.7" cy="251.3" r="2.00"/>
<circle cx="377.8" cy="251.5" r="2.00"/>
<circle cx="377.9" cy="251.1" r="2.00"/>
<circle cx="378.0" cy="251.3" r="2.00"/>
<circle cx="378.2" cy="251.3" r="1.99"/>
<circle cx="378.3" cy="251.3" r="1.99"/>
<circle cx="378.4" cy="251.4" r="1.99"/>
<circle cx="378.5" cy="251.4" r="1.98"/>
<circle cx="378.6" cy="251.4" r="1.98"/>
<circle cx="378.8" cy="251.4" r="1.97"/>
<circle cx="378.9" cy="251.4" r="1.97"/>
<circle cx="379.0" cy="251.4" r="1.97"/>
<circle cx="379.1" cy="251.4" r="1.96"/>
<circle cx="379.2" cy="251.4" r="1.96"/>
<circle cx="379.3" cy="251.4" r="1.96"/>
<circle cx="379.5" cy="251.5" r="1.95"/>
<circle cx="379.6" cy="251.5" r="1.95"/>
<circle cx="379.7" cy="251.5" r="1.94"/>
<circle cx="379.8" cy="251.5" r="1.94"/>
<circle cx="379.9" cy="251.5" r="1.94"/>
<circle cx="380.0" cy="251.5" r="1.93"/>
<circle cx="380.2" cy="251.5" r="1.93"/>
<circle cx="380.3" cy="251.5" r="1.92"/>
<circle cx="380.4" cy="251.5" r="1.92"/>
<circle cx="380.5" cy="251.5" r="1.92"/>
<circle cx="380.6" cy="251.6" r="1.91"/>
<circle cx="380.7" cy="251.6" r="1.91"/>
<circle cx="380.9" cy="251.6" r="1.90"/>
<circle cx="381.0" cy="251.6" r="1.90"/>
<circle cx="381.1" cy="251.6" r="1.90"/>
<circle cx="381.2" cy="251.6" r="1.89"/>
<circle cx="381.3" cy="251.6" r="1.89"/>
<circle cx="381.4" cy="251.6" r="1.89"/>
<circle cx="381.5" cy="251.6" r="1.88"/>
<circle cx="381.7" cy="251.6" r="1.88"/>
<circle cx="381.8" cy="251.7" r="1.87"/>
<circle cx="381.9" cy="251.7" r="1.87"/>
<circle cx="382.0" cy="251.7" r="1.87"/>
<circle cx="382.1" cy="251.7" r="1.86"/>
<circle cx="382.2" cy="251.7" r="1.86"/>
<circle cx="382.3" cy="251.7" r="1.86"/>
<circle cx="382.5" cy="251.7" r="1.85"/>
<circle cx="382.6" cy="251.7" r="1.85"/>
<circle cx="382.7" cy="251.7" r="1.84"/>
<circle cx="382.8" cy="251.7" r="1.84"/>
<circle cx="382.9" cy="251.7" r="1.84"/>
<circle cx="383.0" cy="251.8" r="1.83"/>
<circle cx="383.1" cy="251.8" r="1.83"/>
<circle cx="383.2" cy="251.8" r="1.83"/>
<circle cx="383.3" cy="251.8" r="1.82"/>
<circle cx="383.5" cy="251.8" r="1.82"/>
<circle cx="383.6" cy="251.8" r="1.81"/>
<circle cx="383.7" cy="251.8" r="1.81"/>
<circle cx="383.8" cy="251.8" r="1.81"/>
<circle cx="383.9" cy="251.8" r="1.80"/>
<circle cx="384.0" cy="251.8" r="1.80"/>
<circle cx="384.1" cy="251.9" r="1.80"/>
<circle cx="384.2" cy="251.9" r="1.79"/>
<circle cx="384.3" cy="251.9" r="1.79"/>
<circle cx="384.5" cy="251.9" r="1.78"/>
<circle cx="384.6" cy="251.9" r="1.78"/>
<circle cx="384.7" cy="251.9" r="1.78"/>
<circle cx="384.8" cy="251.9" r="1.77"/>
<circle cx="384.9" cy="251.9" r="1.77"/>
<circle cx="385.0" cy="251.9" r="1.77"/>
<circle cx="385.1" cy="251.9" r="1.76"/>
<circle cx="385.2" cy="252.0" r="1.76"/>
<circle cx="385.3" cy="252.0" r="1.76"/>
<circle cx="385.4" cy="252.0" r="1.75"/>
<circle cx="385.5" cy="252.0" r="1.75"/>
<circle cx="385.7" cy="252.0" r="1.74"/>
<circle cx="385.8" cy="252.0" r="1.74"/>
<circle cx="385.9" cy="252.0" r="1.74"/>
<circle cx="386.0" cy="252.0" r="1.73"/>
<circle cx="386.1" cy="252.0" r="1.73"/>
<circle cx="386.2" cy="252.0" r="1.73"/>
<circle cx="386.3" cy="252.0" r="1.72"/>
<circle cx="386.4" cy="252.1" r="1.72"/>
<circle cx="386.5" cy="252.1" r="1.72"/>
<circle cx="386.6" cy="252.1" r="1.71"/>
<circle cx="386.7" cy="252.1" r="1.71"/>
<circle cx="386.8" cy="252.1" r="1.71"/>
<circle cx="386.9" cy="252.1" r="1.70"/>
<circle cx="387.0" cy="252.1" r="1.70"/>
<circle cx="387.1" cy="252.1" r="1.70"/>
<circle cx="387.3" cy="252.1" r="1.69"/>
<circle cx="387.4" cy="252.1" r="1.69"/>
<circle cx="387.5" cy="252.1" r="1.68"/>
<circle cx="387.6" cy="252.2" r="1.68"/>
<circle cx="387.7" cy="252.2" r="1.68"/>
<circle cx="387.8" cy="252.2" r="1.67"/>
<circle cx="387.9" cy="252.2" r="1.67"/>
<circle cx="388.0" cy="252.2" r="1.67"/>
<circle cx="388.1" cy="252.2" r="1.66"/>
<circle cx="388.2" cy="252.2" r="1.66"/>
<circle cx="388.3" cy="252.2" r="1.66"/>
<circle cx="388.4" cy="252.2" r="1.65"/>
<circle cx="388.5" cy="252.2" r="1.65"/>
<circle cx="388.6" cy="252.2" r="1.65"/>
<circle cx="388.7" cy="252.3" r="1.64"/>
<circle cx="388.8" cy="252.3" r="1.64"/>
<circle cx="388.9" cy="252.3" r="1.64"/>
<circle cx="389.0" cy="252.3" r="1.63"/>
<circle cx="389.1" cy="252.3" r="1.63"/>
<circle cx="389.2" cy="252.3" r="1.63"/>
<circle cx="389.3" cy="252.3" r="1.62"/>
<circle cx="389.4" cy="252.3" r="1.62"/>
<circle cx="389.5" cy="252.3" r="1.62"/>
<circle cx="389.7" cy="252.3" r="1.61"/>
<circle cx="389.8" cy="252.3" r="1.61"/>
<circle cx="389.9" cy="252.4" r="1.60"/>
<circle cx="390.0" cy="252.4" r="1.60"/>
<circle cx="390.1" cy="252.4" r="1.60"/>
<circle cx="390.2" cy="252.4" r="1.59"/>
<circle cx="390.3" cy="252.4" r="1.59"/>
<circle cx="390.4" cy="252.4" r="1.59"/>
<circle cx="390.5" cy="252.4" r="1.58"/>
<circle cx="390.6" cy="252.4" r="1.58"/>
<circle cx="390.7" cy="252.4" r="1.58"/>
<circle cx="390.8" cy="252.4" r="1.57"/>
<circle cx="390.9" cy="252.4" r="1.57"/>
<circle cx="391.0" cy="252.4" r="1.57"/>
<circle cx="391.1" cy="252.5" r="1.56"/>
<circle cx="391.2" cy="252.5" r="1.56"/>
<circle cx="391.3" cy="252.5" r="1.56"/>
<circle cx="391.4" cy="252.5" r="1.55"/>
<circle cx="391.5" cy="252.5" r="1.55"/>
<circle cx="391.6" cy="252.5" r="1.55"/>
<circle cx="391.7" cy="252.5" r="1.54"/>
<circle cx="391.8" cy="252.5" r="1.54"/>
<circle cx="391.9" cy="252.5" r="1.54"/>
<circle cx="392.0" cy="252.5" r="1.53"/>
<circle cx="392.1" cy="252.5" r="1.53"/>
<circle cx="392.2" cy="252.6" r="1.53"/>
<circle cx="392.3" cy="252.6" r="1.52"/>
<circle cx="392.4" cy="252.6" r="1.52"/>
<circle cx="392.5" cy="252.6" r="1.52"/>
<circle cx="392.6" cy="252.6" r="1.51"/>
<circle cx="392.7" cy="252.6" r="1.51"/>
<circle cx="392.8" cy="252.6" r="1.51"/>
<circle cx="392.9" cy="252.6" r="1.50"/>
<circle cx="393.0" cy="252.6" r="1.50"/>
<circle cx="393.1" cy="252.6" r="1.50"/>
<circle cx="393.2" cy="252.6" r="1.49"/>
<circle cx="393.3" cy="252.6" r="1.49"/>
<circle cx="393.4" cy="252.6" r="1.49"/>
<circle cx="393.4" cy="252.7" r="1.49"/>
<circle cx="393.5" cy="252.7" r="1.48"/>
<circle cx="393.6" cy="252.7" r="1.48"/>
<circle cx="393.7" cy="252.7" r="1.48"/>
<circle cx="393.8" cy="252.7" r="1.47"/>
<circle cx="393.9" cy="252.7" r="1.47"/>
<circle cx="394.0" cy="252.7" r="1.47"/>
<circle cx="394.1" cy="252.7" r="1.46"/>
<circle cx="394.2" cy="252.7" r="1.46"/>
<circle cx="394.3" cy="252.7" r="1.46"/>
<circle cx="394.4" cy="252.7" r="1.45"/>
<circle cx="394.5" cy="252.7" r="1.45"/>
<circle cx="394.6" cy="252.7" r="1.45"/>
<circle cx="394.7" cy="252.7" r="1.45"/>
<circle cx="394.8" cy="252.7" r="1.45"/>
<circle cx="394.9" cy="252.7" r="1.45"/>
<circle cx="395.0" cy="252.7" r="1.45"/>
<circle cx="395.1" cy="252.8" r="1.45"/>
<circle cx="395.2" cy="252.8" r="1.45"/>
<circle cx="395.3" cy="252.8" r="1.45"/>
<circle cx="395.4" cy="252.8" r="1.45"/>
<circle cx="395.5" cy="252.8" r="1.45"/>
<circle cx="395.6" cy="252.8" r="1.45"/>
<circle cx="395.7" cy="252.8" r="1.45"/>
<circle cx="395.8" cy="252.8" r="1.45"/>
<circle cx="395.9" cy="252.8" r="1.45"/>
<circle cx="395.9" cy="252.8" r="1.45"/>
<circle cx="396.0" cy="252.8" r="1.45"/>
<circle cx="396.1" cy="252.8" r="1.45"/>
<circle cx="396.2" cy="252.8" r="1.45"/>
</g>
<g fill="#00f">
<rect x="49.7" y="226.2" width="2.6" height="2.6" rx="0.8"/>
<rect x="57.5" y="221.7" width="2.6" height="2.6" rx="0.8"/>
<rect x="64.2" y="216.7" width="2.6" height="2.6" rx="0.8"/>
<rect x="69.7" y="210.7" width="2.6" height="2.6" rx="0.8"/>
<rect x="76.2" y="204.2" width="2.6" height="2.6" rx="0.8"/>
<rect x="81.7" y="197.7" width="2.6" height="2.6" rx="0.8"/>
<rect x="88.7" y="192.7" width="2.6" height="2.6" rx="0.8"/>
<rect x="93.7" y="184.7" width="2.6" height="2.6" rx="0.8"/>
<rect x="97.5" y="177.4" width="2.6" height="2.6" rx="0.8"/>
<rect x="102.5" y="169.7" width="2.6" height="2.6" rx="0.8"/>
<rect x="106.2" y="161.7" width="2.6" height="2.6" rx="0.8"/>
<rect x="109.5" y="153.7" width="2.6" height="2.6" rx="0.8"/>
<rect x="113.7" y="147.4" width="2.6" height="2.6" rx="0.8"/>
<rect x="118.0" y="138.7" width="2.6" height="2.6" rx="0.8"/>
<rect x="123.2" y="132.4" width="2.6" height="2.6" rx="0.8"/>
<rect x="128.0" y="125.7" width="2.6" height="2.6" rx="0.8"/>
<rect x="132.4" y="118.7" width="2.6" height="2.6" rx="0.8"/>
<rect x="137.4" y="110.0" width="2.6" height="2.6" rx="0.8"/>
<rect x="140.7" y="101.7" width="2.6" height="2.6" rx="0.8"/>
<rect x="143.1" y="101.3" width="2.6" height="2.6" rx="0.8"/>
<rect x="147.7" y="94.7" width="2.6" height="2.6" rx="0.8"/>
<rect x="156.7" y="81.1" width="2.6" height="2.6" rx="0.8"/>
<rect x="159.7" y="72.7" width="2.6" height="2.6" rx="0.8"/>
<rect x="160.7" y="76.3" width="2.6" height="2.6" rx="0.8"/>
<rect x="163.1" y="79.7" width="2.6" height="2.6" rx="0.8"/>
<rect x="167.7" y="73.7" width="2.6" height="2.6" rx="0.8"/>
<rect x="173.1" y="77.7" width="2.6" height="2.6" rx="0.8"/>
<rect x="178.7" y="79.3" width="2.6" height="2.6" rx="0.8"/>
<rect x="183.7" y="78.7" width="2.6" height="2.6" rx="0.8"/>
<rect x="188.1" y="84.3" width="2.6" height="2.6" rx="0.8"/>
<rect x="192.5" y="86.7" width="2.6" height="2.6" rx="0.8"/>
<rect x="197.3" y="93.3" width="2.6" height="2.6" rx="0.8"/>
<rect x="201.7" y="100.3" width="2.6" height="2.6" rx="0.8"/>
<rect x="204.7" y="103.7" width="2.6" height="2.6" rx="0.8"/>
<rect x="207.3" y="106.7" width="2.6" height="2.6" rx="0.8"/>
<rect x="209.7" y="108.3" width="2.6" height="2.6" rx="0.8"/>
<rect x="212.1" y="115.7" width="2.6" height="2.6" rx="0.8"/>
<rect x="216.7" y="120.7" width="2.6" height="2.6" rx="0.8"/>
<rect x="219.3" y="126.7" width="2.6" height="2.6" rx="0.8"/>
<rect x="223.7" y="133.7" width="2.6" height="2.6" rx="0.8"/>
<rect x="227.7" y="140.2" width="2.6" height="2.6" rx="0.8"/>
<rect x="232.6" y="147.7" width="2.6" height="2.6" rx="0.8"/>
<rect x="237.7" y="155.0" width="2.6" height="2.6" rx="0.8"/>
<rect x="242.7" y="162.4" width="2.6" height="2.6" rx="0.8"/>
<rect x="247.6" y="169.7" width="2.6" height="2.6" rx="0.8"/>
<rect x="252.6" y="177.2" width="2.6" height="2.6" rx="0.8"/>
<rect x="257.7" y="184.5" width="2.6" height="2.6" rx="0.8"/>
<rect x="262.9" y="191.6" width="2.6" height="2.6" rx="0.8"/>
<rect x="268.7" y="198.2" width="2.6" height="2.6" rx="0.8"/>
<rect x="274.8" y="204.7" width="2.6" height="2.6" rx="0.8"/>
<rect x="281.4" y="210.7" width="2.6" height="2.6" rx="0.8"/>
<rect x="288.2" y="216.4" width="2.6" height="2.6" rx="0.8"/>
<rect x="295.4" y="221.5" width="2.6" height="2.6" rx="0.8"/>
<rect x="302.9" y="226.1" width="2.6" height="2.6" rx="0.8"/>
<rect x="310.7" y="230.4" width="2.6" height="2.6" rx="0.8"/>
<rect x="318.7" y="234.1" width="2.6" height="2.6" rx="0.8"/>
<rect x="327.0" y="237.2" width="2.6" height="2.6" rx="0.8"/>
<rect x="335.3" y="240.3" width="2.6" height="2.6" rx="0.8"/>
<rect x="343.7" y="243.1" width="2.6" height="2.6" rx="0.8"/>
<rect x="352.2" y="245.4" width="2.6" height="2.6" rx="0.8"/>
<rect x="360.8" y="247.5" width="2.6" height="2.6" rx="0.8"/>
<rect x="369.5" y="249.1" width="2.6" height="2.6" rx="0.8"/>
<rect x="378.3" y="250.2" width="2.6" height="2.6" rx="0.8"/>
<rect x="387.1" y="250.9" width="2.6" height="2.6" rx="0.8"/>
</g>
<g fill="#ffa500">
<circle cx="67.5" cy="212.5" r="1.4"/>
<circle cx="72.5" cy="205.0" r="1.4"/>
<circle cx="76.0" cy="204.0" r="1.4"/>
<circle cx="86.0" cy="190.0" r="1.4"/>
<circle cx="94.5" cy="181.0" r="1.4"/>
<circle cx="97.0" cy="175.8" r="1.4"/>
<circle cx="103.0" cy="165.8" r="1.4"/>
<circle cx="112.0" cy="151.2" r="1.4"/>
<circle cx="117.0" cy="145.0" r="1.4"/>
<circle cx="122.0" cy="137.0" r="1.4"/>
<circle cx="126.2" cy="130.0" r="1.4"/>
<circle cx="140.0" cy="106.0" r="1.4"/>
<circle cx="143.8" cy="105.0" r="1.4"/>
<circle cx="139.8" cy="106.4" r="1.4"/>
<circle cx="137.9" cy="111.2" r="1.4"/>
<circle cx="129.9" cy="123.9" r="1.4"/>
<circle cx="133.8" cy="120.9" r="1.4"/>
<circle cx="147.9" cy="101.8" r="1.4"/>
<circle cx="153.0" cy="99.4" r="1.4"/>
<circle cx="152.4" cy="95.0" r="1.4"/>
<circle cx="156.0" cy="89.6" r="1.4"/>
<circle cx="160.0" cy="91.6" r="1.4"/>
<circle cx="160.0" cy="99.0" r="1.4"/>
<circle cx="163.0" cy="89.6" r="1.4"/>
<circle cx="165.0" cy="85.6" r="1.4"/>
<circle cx="166.4" cy="87.6" r="1.4"/>
<circle cx="168.4" cy="90.0" r="1.4"/>
<circle cx="168.0" cy="93.0" r="1.4"/>
<circle cx="171.0" cy="85.6" r="1.4"/>
<circle cx="173.0" cy="88.0" r="1.4"/>
<circle cx="174.4" cy="91.0" r="1.4"/>
<circle cx="176.4" cy="88.4" r="1.4"/>
<circle cx="179.0" cy="90.4" r="1.4"/>
<circle cx="181.6" cy="82.4" r="1.4"/>
<circle cx="183.0" cy="89.6" r="1.4"/>
<circle cx="185.0" cy="90.4" r="1.4"/>
<circle cx="186.4" cy="93.0" r="1.4"/>
<circle cx="189.6" cy="95.0" r="1.4"/>
<circle cx="188.0" cy="100.0" r="1.4"/>
<circle cx="194.0" cy="92.9" r="1.4"/>
<circle cx="190.7" cy="95.3" r="1.4"/>
<circle cx="192.4" cy="98.3" r="1.4"/>
<circle cx="195.3" cy="103.1" r="1.4"/>
<circle cx="196.9" cy="104.0" r="1.4"/>
<circle cx="198.3" cy="101.5" r="1.4"/>
<circle cx="198.7" cy="104.9" r="1.4"/>
<circle cx="200.9" cy="108.4" r="1.4"/>
<circle cx="202.7" cy="109.3" r="1.4"/>
<circle cx="205.7" cy="113.7" r="1.4"/>
<circle cx="207.3" cy="114.7" r="1.4"/>
<circle cx="208.7" cy="116.0" r="1.4"/>
<circle cx="210.7" cy="120.4" r="1.4"/>
<circle cx="213.3" cy="122.7" r="1.4"/>
<circle cx="214.7" cy="124.4" r="1.4"/>
<circle cx="216.0" cy="126.0" r="1.4"/>
<circle cx="218.0" cy="128.7" r="1.4"/>
<circle cx="218.6" cy="132.7" r="1.4"/>
<circle cx="220.0" cy="132.5" r="1.4"/>
<circle cx="221.0" cy="133.2" r="1.4"/>
<circle cx="221.1" cy="134.4" r="1.4"/>
<circle cx="222.7" cy="136.0" r="1.4"/>
<circle cx="223.3" cy="137.5" r="1.4"/>
<circle cx="223.0" cy="137.3" r="1.4"/>
<circle cx="224.6" cy="139.2" r="1.4"/>
<circle cx="226.2" cy="140.1" r="1.4"/>
<circle cx="225.7" cy="140.9" r="1.4"/>
<circle cx="226.9" cy="143.1" r="1.4"/>
<circle cx="227.1" cy="143.7" r="1.4"/>
<circle cx="228.8" cy="144.5" r="1.4"/>
<circle cx="229.6" cy="145.4" r="1.4"/>
<circle cx="229.6" cy="146.2" r="1.4"/>
<circle cx="230.3" cy="147.9" r="1.4"/>
<circle cx="230.6" cy="148.3" r="1.4"/>
<circle cx="232.5" cy="148.6" r="1.4"/>
<circle cx="231.9" cy="149.4" r="1.4"/>
<circle cx="233.5" cy="150.4" r="1.4"/>
<circle cx="235.0" cy="152.5" r="1.4"/>
<circle cx="235.7" cy="151.9" r="1.4"/>
<circle cx="234.7" cy="152.5" r="1.4"/>
<circle cx="236.1" cy="154.2" r="1.4"/>
<circle cx="236.7" cy="154.9" r="1.4"/>
<circle cx="237.3" cy="156.7" r="1.4"/>
<circle cx="238.4" cy="157.7" r="1.4"/>
<circle cx="239.4" cy="158.5" r="1.4"/>
<circle cx="238.7" cy="159.8" r="1.4"/>
<circle cx="239.7" cy="160.3" r="1.4"/>
<circle cx="240.4" cy="161.0" r="1.4"/>
<circle cx="240.7" cy="161.2" r="1.4"/>
<circle cx="241.4" cy="162.6" r="1.4"/>
<circle cx="243.2" cy="163.9" r="1.4"/>
<circle cx="242.8" cy="164.0" r="1.4"/>
<circle cx="244.6" cy="165.5" r="1.4"/>
<circle cx="243.9" cy="166.5" r="1.4"/>
<circle cx="245.2" cy="167.5" r="1.4"/>
<circle cx="244.8" cy="167.7" r="1.4"/>
<circle cx="246.7" cy="168.9" r="1.4"/>
<circle cx="247.4" cy="168.6" r="1.4"/>
<circle cx="246.9" cy="169.8" r="1.4"/>
<circle cx="247.3" cy="171.7" r="1.4"/>
<circle cx="248.6" cy="172.9" r="1.4"/>
<circle cx="248.7" cy="173.0" r="1.4"/>
<circle cx="249.4" cy="173.7" r="1.4"/>
<circle cx="250.6" cy="174.7" r="1.4"/>
<circle cx="249.9" cy="175.2" r="1.4"/>
<circle cx="251.4" cy="175.8" r="1.4"/>
<circle cx="251.5" cy="176.4" r="1.4"/>
<circle cx="251.8" cy="176.9" r="1.4"/>
<circle cx="253.0" cy="177.7" r="1.4"/>
<circle cx="252.8" cy="178.0" r="1.4"/>
<circle cx="253.6" cy="179.3" r="1.4"/>
<circle cx="253.8" cy="180.0" r="1.4"/>
<circle cx="254.4" cy="180.7" r="1.4"/>
<circle cx="255.5" cy="180.5" r="1.4"/>
<circle cx="255.3" cy="182.0" r="1.4"/>
<circle cx="256.6" cy="182.2" r="1.4"/>
<circle cx="256.3" cy="182.5" r="1.4"/>
<circle cx="257.8" cy="183.7" r="1.4"/>
<circle cx="257.6" cy="184.1" r="1.4"/>
<circle cx="259.3" cy="184.1" r="1.4"/>
<circle cx="259.1" cy="184.8" r="1.4"/>
<circle cx="259.3" cy="186.0" r="1.4"/>
<circle cx="260.9" cy="186.6" r="1.4"/>
<circle cx="259.9" cy="187.1" r="1.4"/>
<circle cx="260.4" cy="187.2" r="1.4"/>
<circle cx="262.1" cy="188.4" r="1.4"/>
<circle cx="262.5" cy="188.4" r="1.4"/>
<circle cx="262.0" cy="189.2" r="1.4"/>
<circle cx="262.5" cy="189.4" r="1.4"/>
<circle cx="263.1" cy="189.7" r="1.4"/>
<circle cx="263.6" cy="190.2" r="1.4"/>
<circle cx="264.2" cy="191.4" r="1.4"/>
<circle cx="264.7" cy="192.1" r="1.4"/>
<circle cx="265.2" cy="193.0" r="1.4"/>
<circle cx="265.7" cy="192.6" r="1.4"/>
<circle cx="266.3" cy="193.7" r="1.4"/>
<circle cx="266.8" cy="194.0" r="1.4"/>
<circle cx="267.3" cy="194.7" r="1.4"/>
<circle cx="267.8" cy="194.8" r="1.4"/>
<circle cx="268.3" cy="195.5" r="1.4"/>
<circle cx="268.8" cy="196.3" r="1.4"/>
<circle cx="269.3" cy="197.2" r="1.4"/>
<circle cx="269.8" cy="196.9" r="1.4"/>
<circle cx="270.3" cy="197.8" r="1.4"/>
<circle cx="270.8" cy="198.7" r="1.4"/>
<circle cx="271.3" cy="199.3" r="1.4"/>
<circle cx="271.8" cy="199.0" r="1.4"/>
<circle cx="272.2" cy="199.4" r="1.4"/>
<circle cx="272.7" cy="200.8" r="1.4"/>
<circle cx="273.2" cy="201.3" r="1.4"/>
<circle cx="273.7" cy="201.3" r="1.4"/>
<circle cx="274.1" cy="201.3" r="1.4"/>
<circle cx="274.6" cy="202.7" r="1.4"/>
<circle cx="275.1" cy="202.6" r="1.4"/>
<circle cx="275.5" cy="203.6" r="1.4"/>
<circle cx="276.0" cy="203.7" r="1.4"/>
<circle cx="276.4" cy="204.3" r="1.4"/>
<circle cx="276.9" cy="204.0" r="1.4"/>
<circle cx="277.3" cy="205.1" r="1.4"/>
<circle cx="277.8" cy="204.9" r="1.4"/>
<circle cx="278.2" cy="205.5" r="1.4"/>
<circle cx="278.7" cy="206.4" r="1.4"/>
<circle cx="279.1" cy="206.8" r="1.4"/>
<circle cx="279.5" cy="206.4" r="1.4"/>
<circle cx="280.0" cy="206.9" r="1.4"/>
<circle cx="280.4" cy="207.5" r="1.4"/>
<circle cx="280.8" cy="208.0" r="1.4"/>
<circle cx="281.3" cy="208.2" r="1.4"/>
<circle cx="281.7" cy="208.3" r="1.4"/>
<circle cx="282.1" cy="208.8" r="1.4"/>
<circle cx="282.5" cy="209.7" r="1.4"/>
<circle cx="282.9" cy="210.3" r="1.4"/>
<circle cx="283.4" cy="209.7" r="1.4"/>
<circle cx="283.8" cy="210.7" r="1.4"/>
<circle cx="284.2" cy="211.2" r="1.4"/>
<circle cx="284.6" cy="210.8" r="1.4"/>
<circle cx="285.0" cy="212.1" r="1.4"/>
<circle cx="285.4" cy="211.6" r="1.4"/>
<circle cx="285.8" cy="212.4" r="1.4"/>
<circle cx="286.2" cy="212.6" r="1.4"/>
<circle cx="286.6" cy="213.0" r="1.4"/>
<circle cx="287.0" cy="212.9" r="1.4"/>
<circle cx="287.4" cy="213.4" r="1.4"/>
<circle cx="287.8" cy="213.8" r="1.4"/>
<circle cx="288.2" cy="213.9" r="1.4"/>
<circle cx="288.6" cy="214.5" r="1.4"/>
<circle cx="288.9" cy="214.5" r="1.4"/>
<circle cx="289.3" cy="214.8" r="1.4"/>
<circle cx="289.7" cy="214.6" r="1.4"/>
<circle cx="290.1" cy="215.5" r="1.4"/>
<circle cx="290.5" cy="215.7" r="1.4"/>
<circle cx="290.8" cy="215.7" r="1.4"/>
<circle cx="291.2" cy="216.5" r="1.4"/>
<circle cx="291.6" cy="216.8" r="1.4"/>
<circle cx="292.0" cy="216.7" r="1.4"/>
<circle cx="292.3" cy="216.7" r="1.4"/>
<circle cx="292.7" cy="217.3" r="1.4"/>
<circle cx="293.1" cy="217.2" r="1.4"/>
<circle cx="293.4" cy="217.4" r="1.4"/>
<circle cx="293.8" cy="218.0" r="1.4"/>
<circle cx="294.1" cy="217.9" r="1.4"/>
<circle cx="294.5" cy="218.6" r="1.4"/>
<circle cx="294.9" cy="218.9" r="1.4"/>
<circle cx="295.2" cy="218.6" r="1.4"/>
<circle cx="295.6" cy="219.5" r="1.4"/>
<circle cx="295.9" cy="219.1" r="1.4"/>
<circle cx="296.3" cy="220.1" r="1.4"/>
<circle cx="296.6" cy="220.3" r="1.4"/>
<circle cx="297.0" cy="220.2" r="1.4"/>
<circle cx="297.3" cy="220.0" r="1.4"/>
<circle cx="297.7" cy="220.7" r="1.4"/>
<circle cx="298.0" cy="220.7" r="1.4"/>
<circle cx="298.3" cy="221.6" r="1.4"/>
<circle cx="298.7" cy="220.9" r="1.4"/>
<circle cx="299.0" cy="221.9" r="1.4"/>
<circle cx="299.4" cy="222.3" r="1.4"/>
<circle cx="299.7" cy="222.2" r="1.4"/>
<circle cx="300.0" cy="222.5" r="1.45"/>
<circle cx="300.3" cy="222.1" r="1.45"/>
<circle cx="300.5" cy="223.0" r="1.45"/>
<circle cx="300.8" cy="222.7" r="1.45"/>
<circle cx="301.1" cy="223.3" r="1.45"/>
<circle cx="301.3" cy="223.5" r="1.45"/>
<circle cx="301.6" cy="222.9" r="1.45"/>
<circle cx="301.8" cy="223.7" r="1.45"/>
<circle cx="302.1" cy="224.0" r="1.45"/>
<circle cx="302.4" cy="223.3" r="1.45"/>
<circle cx="302.6" cy="223.7" r="1.45"/>
<circle cx="302.9" cy="224.3" r="1.45"/>
<circle cx="303.1" cy="223.8" r="1.45"/>
<circle cx="303.4" cy="224.7" r="1.45"/>
<circle cx="303.6" cy="224.2" r="1.45"/>
<circle cx="303.9" cy="224.9" r="1.45"/>
<circle cx="304.1" cy="224.4" r="1.45"/>
<circle cx="304.4" cy="224.9" r="1.45"/>
<circle cx="304.6" cy="225.5" r="1.45"/>
<circle cx="304.9" cy="224.9" r="1.45"/>
<circle cx="305.1" cy="225.1" r="1.45"/>
<circle cx="305.4" cy="225.5" r="1.45"/>
<circle cx="305.6" cy="225.4" r="1.45"/>
<circle cx="305.9" cy="225.3" r="1.45"/>
<circle cx="306.1" cy="225.6" r="1.45"/>
<circle cx="306.4" cy="225.7" r="1.45"/>
<circle cx="306.6" cy="226.6" r="1.45"/>
<circle cx="306.9" cy="226.5" r="1.45"/>
<circle cx="307.1" cy="226.8" r="1.45"/>
<circle cx="307.4" cy="226.3" r="1.45"/>
<circle cx="307.6" cy="227.0" r="1.45"/>
<circle cx="307.8" cy="226.5" r="1.45"/>
<circle cx="308.1" cy="227.0" r="1.45"/>
<circle cx="308.3" cy="227.3" r="1.45"/>
<circle cx="308.5" cy="227.1" r="1.45"/>
<circle cx="308.8" cy="227.8" r="1.45"/>
<circle cx="309.0" cy="227.6" r="1.45"/>
<circle cx="309.3" cy="227.8" r="1.45"/>
<circle cx="309.5" cy="228.2" r="1.45"/>
<circle cx="309.7" cy="227.6" r="1.45"/>
<circle cx="310.0" cy="228.6" r="1.45"/>
<circle cx="310.2" cy="228.3" r="1.45"/>
<circle cx="310.4" cy="228.2" r="1.45"/>
<circle cx="310.7" cy="228.7" r="1.45"/>
<circle cx="310.9" cy="228.3" r="1.45"/>
<circle cx="311.1" cy="229.1" r="1.45"/>
<circle cx="311.4" cy="228.8" r="1.45"/>
<circle cx="311.6" cy="228.7" r="1.45"/>
<circle cx="311.8" cy="229.2" r="1.45"/>
<circle cx="312.0" cy="229.0" r="1.45"/>
<circle cx="312.3" cy="228.9" r="1.45"/>
<circle cx="312.5" cy="229.5" r="1.45"/>
<circle cx="312.7" cy="229.0" r="1.45"/>
<circle cx="312.9" cy="229.8" r="1.45"/>
<circle cx="313.2" cy="229.4" r="1.45"/>
<circle cx="313.4" cy="229.9" r="1.45"/>
<circle cx="313.6" cy="230.3" r="1.45"/>
<circle cx="313.8" cy="230.0" r="1.45"/>
<circle cx="314.1" cy="230.2" r="1.45"/>
<circle cx="314.3" cy="230.0" r="1.45"/>
<circle cx="314.5" cy="229.8" r="1.45"/>
<circle cx="314.7" cy="229.9" r="1.45"/>
<circle cx="314.9" cy="230.1" r="1.45"/>
<circle cx="315.2" cy="230.7" r="1.45"/>
<circle cx="315.4" cy="230.6" r="1.45"/>
<circle cx="315.6" cy="230.8" r="1.45"/>
<circle cx="315.8" cy="231.3" r="1.45"/>
<circle cx="316.0" cy="230.6" r="1.45"/>
<circle cx="316.2" cy="230.8" r="1.45"/>
<circle cx="316.5" cy="231.3" r="1.45"/>
<circle cx="316.7" cy="230.8" r="1.45"/>
<circle cx="316.9" cy="230.9" r="1.45"/>
<circle cx="317.1" cy="231.4" r="1.45"/>
<circle cx="317.3" cy="231.2" r="1.45"/>
<circle cx="317.5" cy="231.6" r="1.45"/>
<circle cx="317.7" cy="231.5" r="1.45"/>
<circle cx="317.9" cy="232.0" r="1.45"/>
<circle cx="318.1" cy="232.1" r="1.45"/>
<circle cx="318.4" cy="231.8" r="1.45"/>
<circle cx="318.6" cy="232.3" r="1.45"/>
<circle cx="318.8" cy="232.3" r="1.45"/>
<circle cx="319.0" cy="232.0" r="1.45"/>
<circle cx="319.2" cy="232.9" r="1.45"/>
<circle cx="319.4" cy="232.4" r="1.45"/>
<circle cx="319.6" cy="232.4" r="1.45"/>
<circle cx="319.8" cy="232.4" r="1.45"/>
<circle cx="320.0" cy="233.0" r="1.45"/>
<circle cx="320.2" cy="233.4" r="1.45"/>
<circle cx="320.4" cy="233.3" r="1.45"/>
<circle cx="320.6" cy="233.0" r="1.45"/>
<circle cx="320.8" cy="233.0" r="1.45"/>
<circle cx="321.0" cy="232.8" r="1.45"/>
<circle cx="321.2" cy="233.5" r="1.45"/>
<circle cx="321.4" cy="233.5" r="1.45"/>
<circle cx="321.6" cy="233.4" r="1.45"/>
<circle cx="321.8" cy="233.7" r="1.45"/>
<circle cx="322.0" cy="233.6" r="1.45"/>
<circle cx="322.2" cy="234.2" r="1.45"/>
<circle cx="322.4" cy="234.1" r="1.45"/>
<circle cx="322.6" cy="233.6" r="1.45"/>
<circle cx="322.8" cy="234.4" r="1.45"/>
<circle cx="323.0" cy="233.6" r="1.45"/>
<circle cx="323.2" cy="234.1" r="1.45"/>
<circle cx="323.4" cy="234.1" r="1.45"/>
<circle cx="323.6" cy="234.0" r="1.45"/>
<circle cx="323.8" cy="233.9" r="1.45"/>
<circle cx="324.0" cy="234.7" r="1.45"/>
<circle cx="324.2" cy="234.0" r="1.45"/>
<circle cx="324.4" cy="234.6" r="1.45"/>
<circle cx="324.6" cy="235.1" r="1.45"/>
<circle cx="324.8" cy="234.3" r="1.45"/>
<circle cx="325.0" cy="234.5" r="1.45"/>
<circle cx="325.2" cy="235.0" r="1.45"/>
<circle cx="325.3" cy="234.9" r="1.45"/>
<circle cx="325.5" cy="235.1" r="1.45"/>
<circle cx="325.7" cy="235.4" r="1.45"/>
<circle cx="325.9" cy="234.8" r="1.45"/>
<circle cx="326.1" cy="235.0" r="1.45"/>
<circle cx="326.3" cy="235.1" r="1.45"/>
<circle cx="326.5" cy="234.9" r="1.45"/>
<circle cx="326.7" cy="235.8" r="1.45"/>
<circle cx="326.9" cy="235.8" r="1.45"/>
<circle cx="327.0" cy="235.8" r="1.45"/>
<circle cx="327.2" cy="235.1" r="1.45"/>
<circle cx="327.4" cy="236.0" r="1.45"/>
<circle cx="327.6" cy="236.0" r="1.45"/>
<circle cx="327.8" cy="235.8" r="1.45"/>
<circle cx="328.0" cy="236.2" r="1.45"/>
<circle cx="328.2" cy="235.9" r="1.45"/>
<circle cx="328.3" cy="235.8" r="1.45"/>
<circle cx="328.5" cy="235.7" r="1.45"/>
<circle cx="328.7" cy="235.9" r="1.45"/>
<circle cx="328.9" cy="235.8" r="1.45"/>
<circle cx="329.1" cy="236.2" r="1.45"/>
<circle cx="329.2" cy="236.7" r="1.45"/>
<circle cx="329.4" cy="236.7" r="1.45"/>
<circle cx="329.6" cy="236.9" r="1.45"/>
<circle cx="329.8" cy="236.9" r="1.45"/>
<circle cx="330.0" cy="236.5" r="1.45"/>
<circle cx="330.2" cy="236.9" r="1.45"/>
<circle cx="330.3" cy="236.8" r="1.45"/>
<circle cx="330.5" cy="237.3" r="1.45"/>
<circle cx="330.7" cy="237.1" r="1.45"/>
<circle cx="330.9" cy="236.9" r="1.45"/>
<circle cx="331.0" cy="237.3" r="1.45"/>
<circle cx="331.2" cy="237.7" r="1.45"/>
<circle cx="331.4" cy="237.1" r="1.45"/>
<circle cx="331.6" cy="237.8" r="1.45"/>
<circle cx="331.7" cy="237.0" r="1.45"/>
<circle cx="331.9" cy="237.3" r="1.45"/>
<circle cx="332.1" cy="237.4" r="1.45"/>
<circle cx="332.3" cy="238.0" r="1.45"/>
<circle cx="332.4" cy="238.3" r="1.45"/>
<circle cx="332.6" cy="238.1" r="1.45"/>
<circle cx="332.8" cy="237.8" r="1.45"/>
<circle cx="333.0" cy="238.4" r="1.45"/>
<circle cx="333.1" cy="237.9" r="1.45"/>
<circle cx="333.3" cy="237.9" r="1.45"/>
<circle cx="333.5" cy="238.7" r="1.45"/>
<circle cx="333.7" cy="238.5" r="1.45"/>
<circle cx="333.8" cy="238.6" r="1.45"/>
<circle cx="334.0" cy="238.7" r="1.45"/>
<circle cx="334.2" cy="239.1" r="1.45"/>
<circle cx="334.3" cy="238.6" r="1.45"/>
<circle cx="334.5" cy="239.1" r="1.45"/>
<circle cx="334.7" cy="239.0" r="1.45"/>
<circle cx="334.8" cy="239.2" r="1.45"/>
<circle cx="335.0" cy="238.9" r="1.45"/>
<circle cx="335.2" cy="239.2" r="1.45"/>
<circle cx="335.3" cy="239.2" r="1.45"/>
<circle cx="335.5" cy="239.0" r="1.45"/>
<circle cx="335.7" cy="239.0" r="1.45"/>
<circle cx="335.8" cy="239.4" r="1.45"/>
<circle cx="336.0" cy="239.0" r="1.45"/>
<circle cx="336.2" cy="239.9" r="1.45"/>
<circle cx="336.3" cy="239.2" r="1.45"/>
<circle cx="336.5" cy="239.1" r="1.45"/>
<circle cx="336.7" cy="239.3" r="1.45"/>
<circle cx="336.8" cy="240.2" r="1.45"/>
<circle cx="337.0" cy="239.7" r="1.45"/>
<circle cx="337.2" cy="239.5" r="1.45"/>
<circle cx="337.3" cy="239.5" r="1.45"/>
<circle cx="337.5" cy="239.6" r="1.45"/>
<circle cx="337.7" cy="240.3" r="1.45"/>
<circle cx="337.8" cy="240.3" r="1.45"/>
<circle cx="338.0" cy="240.4" r="1.45"/>
<circle cx="338.1" cy="240.6" r="1.45"/>
<circle cx="338.3" cy="240.0" r="1.45"/>
<circle cx="338.5" cy="240.6" r="1.45"/>
<circle cx="338.6" cy="240.4" r="1.45"/>
<circle cx="338.8" cy="240.9" r="1.45"/>
<circle cx="338.9" cy="241.0" r="1.45"/>
<circle cx="339.1" cy="241.1" r="1.45"/>
<circle cx="339.3" cy="240.4" r="1.45"/>
<circle cx="339.4" cy="241.2" r="1.45"/>
<circle cx="339.6" cy="241.3" r="1.45"/>
<circle cx="339.7" cy="241.4" r="1.45"/>
<circle cx="339.9" cy="240.6" r="1.45"/>
<circle cx="340.0" cy="240.8" r="1.45"/>
<circle cx="340.2" cy="240.7" r="1.45"/>
<circle cx="340.4" cy="240.7" r="1.45"/>
<circle cx="340.5" cy="241.6" r="1.45"/>
<circle cx="340.7" cy="241.6" r="1.45"/>
<circle cx="340.8" cy="241.5" r="1.45"/>
<circle cx="341.0" cy="241.7" r="1.45"/>
<circle cx="341.1" cy="241.6" r="1.45"/>
<circle cx="341.3" cy="241.3" r="1.45"/>
<circle cx="341.5" cy="241.2" r="1.45"/>
<circle cx="341.6" cy="241.2" r="1.45"/>
<circle cx="341.8" cy="242.0" r="1.45"/>
<circle cx="341.9" cy="241.5" r="1.45"/>
<circle cx="342.1" cy="241.6" r="1.45"/>
<circle cx="342.2" cy="241.8" r="1.45"/>
<circle cx="342.4" cy="241.4" r="1.45"/>
<circle cx="342.5" cy="241.7" r="1.45"/>
<circle cx="342.7" cy="241.8" r="1.45"/>
<circle cx="342.8" cy="242.3" r="1.45"/>
<circle cx="343.0" cy="242.0" r="1.45"/>
<circle cx="343.1" cy="242.0" r="1.45"/>
<circle cx="343.3" cy="242.7" r="1.45"/>
<circle cx="343.4" cy="242.3" r="1.45"/>
<circle cx="343.6" cy="242.7" r="1.45"/>
<circle cx="343.7" cy="242.5" r="1.45"/>
<circle cx="343.9" cy="242.0" r="1.45"/>
<circle cx="344.0" cy="242.4" r="1.45"/>
<circle cx="344.2" cy="242.5" r="1.45"/>
<circle cx="344.3" cy="242.9" r="1.45"/>
<circle cx="344.5" cy="242.5" r="1.45"/>
<circle cx="344.6" cy="242.9" r="1.45"/>
<circle cx="344.8" cy="242.8" r="1.45"/>
<circle cx="344.9" cy="242.5" r="1.45"/>
<circle cx="345.1" cy="243.2" r="1.45"/>
<circle cx="345.2" cy="242.5" r="1.45"/>
<circle cx="345.4" cy="243.3" r="1.45"/>
<circle cx="345.5" cy="242.7" r="1.45"/>
<circle cx="345.7" cy="242.6" r="1.45"/>
<circle cx="345.8" cy="242.9" r="1.45"/>
<circle cx="345.9" cy="243.5" r="1.45"/>
<circle cx="346.1" cy="243.7" r="1.45"/>
<circle cx="346.2" cy="242.8" r="1.45"/>
<circle cx="346.4" cy="243.3" r="1.45"/>
<circle cx="346.5" cy="243.4" r="1.45"/>
<circle cx="346.7" cy="243.8" r="1.45"/>
<circle cx="346.8" cy="243.2" r="1.45"/>
<circle cx="347.0" cy="243.6" r="1.45"/>
<circle cx="347.1" cy="243.5" r="1.45"/>
<circle cx="347.2" cy="244.0" r="1.45"/>
<circle cx="347.4" cy="243.5" r="1.45"/>
<circle cx="347.5" cy="244.2" r="1.45"/>
<circle cx="347.7" cy="243.6" r="1.45"/>
<circle cx="347.8" cy="243.6" r="1.45"/>
<circle cx="348.0" cy="244.1" r="1.45"/>
<circle cx="348.1" cy="244.0" r="1.45"/>
<circle cx="348.2" cy="243.6" r="1.45"/>
<circle cx="348.4" cy="244.2" r="1.45"/>
<circle cx="348.5" cy="243.7" r="1.45"/>
<circle cx="348.7" cy="244.5" r="1.45"/>
<circle cx="348.8" cy="244.4" r="1.45"/>
<circle cx="348.9" cy="244.6" r="1.45"/>
<circle cx="349.1" cy="244.5" r="1.45"/>
<circle cx="349.2" cy="244.2" r="1.45"/>
<circle cx="349.4" cy="244.3" r="1.45"/>
<circle cx="349.5" cy="244.3" r="1.45"/>
<circle cx="349.6" cy="244.9" r="1.45"/>
<circle cx="349.8" cy="244.1" r="1.45"/>
<circle cx="349.9" cy="244.9" r="1.45"/>
<circle cx="350.1" cy="244.1" r="1.45"/>
<circle cx="350.2" cy="244.3" r="1.45"/>
<circle cx="350.3" cy="244.4" r="1.45"/>
<circle cx="350.5" cy="245.1" r="1.45"/>
<circle cx="350.6" cy="244.8" r="1.45"/>
<circle cx="350.7" cy="244.7" r="1.45"/>
<circle cx="350.9" cy="245.2" r="1.45"/>
<circle cx="351.0" cy="244.6" r="1.45"/>
<circle cx="351.2" cy="244.9" r="1.45"/>
<circle cx="351.3" cy="245.0" r="1.45"/>
<circle cx="351.4" cy="245.2" r="1.45"/>
<circle cx="351.6" cy="245.3" r="1.45"/>
<circle cx="351.7" cy="245.2" r="1.45"/>
<circle cx="351.8" cy="244.9" r="1.45"/>
<circle cx="352.0" cy="245.0" r="1.45"/>
<circle cx="352.1" cy="244.8" r="1.45"/>
<circle cx="352.2" cy="245.5" r="1.45"/>
<circle cx="352.4" cy="245.4" r="1.45"/>
<circle cx="352.5" cy="245.5" r="1.45"/>
<circle cx="352.6" cy="245.0" r="1.45"/>
<circle cx="352.8" cy="245.3" r="1.45"/>
<circle cx="352.9" cy="245.7" r="1.45"/>
<circle cx="353.0" cy="245.5" r="1.45"/>
<circle cx="353.2" cy="245.1" r="1.45"/>
<circle cx="353.3" cy="245.5" r="1.45"/>
<circle cx="353.4" cy="245.9" r="1.45"/>
<circle cx="353.6" cy="245.3" r="1.45"/>
<circle cx="353.7" cy="245.3" r="1.45"/>
<circle cx="353.8" cy="245.5" r="1.45"/>
<circle cx="354.0" cy="245.9" r="1.45"/>
<circle cx="354.1" cy="246.1" r="1.45"/>
<circle cx="354.2" cy="245.4" r="1.45"/>
<circle cx="354.3" cy="245.5" r="1.45"/>
<circle cx="354.5" cy="245.6" r="1.45"/>
<circle cx="354.6" cy="245.7" r="1.45"/>
<circle cx="354.7" cy="245.9" r="1.45"/>
<circle cx="354.9" cy="245.6" r="1.45"/>
<circle cx="355.0" cy="245.8" r="1.45"/>
<circle cx="355.1" cy="245.7" r="1.45"/>
<circle cx="355.3" cy="246.5" r="1.45"/>
<circle cx="355.4" cy="246.3" r="1.45"/>
<circle cx="355.5" cy="245.7" r="1.45"/>
<circle cx="355.6" cy="246.6" r="1.45"/>
<circle cx="355.8" cy="245.8" r="1.45"/>
<circle cx="355.9" cy="246.1" r="1.45"/>
<circle cx="356.0" cy="246.8" r="1.45"/>
<circle cx="356.2" cy="246.6" r="1.45"/>
<circle cx="356.3" cy="246.6" r="1.45"/>
<circle cx="356.4" cy="246.3" r="1.45"/>
<circle cx="356.5" cy="246.1" r="1.45"/>
<circle cx="356.7" cy="246.6" r="1.45"/>
<circle cx="356.8" cy="246.1" r="1.45"/>
<circle cx="356.9" cy="246.2" r="1.45"/>
<circle cx="357.0" cy="246.4" r="1.45"/>
<circle cx="357.2" cy="246.1" r="1.45"/>
<circle cx="357.3" cy="246.5" r="1.45"/>
<circle cx="357.4" cy="246.9" r="1.45"/>
<circle cx="357.5" cy="246.9" r="1.45"/>
<circle cx="357.7" cy="246.7" r="1.45"/>
<circle cx="357.8" cy="246.9" r="1.45"/>
<circle cx="357.9" cy="246.8" r="1.45"/>
<circle cx="358.0" cy="246.5" r="1.45"/>
<circle cx="358.2" cy="247.0" r="1.45"/>
<circle cx="358.3" cy="246.8" r="1.45"/>
<circle cx="358.4" cy="247.2" r="1.45"/>
<circle cx="358.5" cy="247.4" r="1.45"/>
<circle cx="358.7" cy="246.9" r="1.45"/>
<circle cx="358.8" cy="247.1" r="1.45"/>
<circle cx="358.9" cy="247.3" r="1.45"/>
<circle cx="359.0" cy="247.0" r="1.45"/>
<circle cx="359.1" cy="246.9" r="1.45"/>
<circle cx="359.3" cy="247.4" r="1.45"/>
<circle cx="359.4" cy="247.6" r="1.45"/>
<circle cx="359.5" cy="247.5" r="1.45"/>
<circle cx="359.6" cy="247.4" r="1.45"/>
<circle cx="359.8" cy="247.6" r="1.45"/>
<circle cx="359.9" cy="247.5" r="1.45"/>
<circle cx="360.0" cy="247.4" r="1.45"/>
<circle cx="360.1" cy="247.3" r="1.45"/>
<circle cx="360.2" cy="247.2" r="1.45"/>
<circle cx="360.4" cy="247.5" r="1.45"/>
<circle cx="360.5" cy="247.0" r="1.45"/>
<circle cx="360.6" cy="247.3" r="1.45"/>
<circle cx="360.7" cy="247.7" r="1.45"/>
<circle cx="360.8" cy="247.7" r="1.45"/>
<circle cx="361.0" cy="247.6" r="1.45"/>
<circle cx="361.1" cy="247.3" r="1.45"/>
<circle cx="361.2" cy="247.5" r="1.45"/>
<circle cx="361.3" cy="247.5" r="1.45"/>
<circle cx="361.4" cy="247.7" r="1.45"/>
<circle cx="361.6" cy="247.5" r="1.45"/>
<circle cx="361.7" cy="247.8" r="1.45"/>
<circle cx="361.8" cy="248.1" r="1.45"/>
<circle cx="361.9" cy="247.4" r="1.45"/>
<circle cx="362.0" cy="247.9" r="1.45"/>
<circle cx="362.1" cy="248.0" r="1.45"/>
<circle cx="362.3" cy="247.6" r="1.45"/>
<circle cx="362.4" cy="247.8" r="1.45"/>
<circle cx="362.5" cy="248.3" r="1.45"/>
<circle cx="362.6" cy="247.4" r="1.45"/>
<circle cx="362.7" cy="247.9" r="1.45"/>
<circle cx="362.9" cy="247.5" r="1.45"/>
<circle cx="363.0" cy="248.2" r="1.45"/>
<circle cx="363.1" cy="248.4" r="1.45"/>
<circle cx="363.2" cy="248.0" r="1.45"/>
<circle cx="363.3" cy="247.6" r="1.45"/>
<circle cx="363.4" cy="248.1" r="1.45"/>
<circle cx="363.5" cy="248.1" r="1.45"/>
<circle cx="363.7" cy="248.2" r="1.45"/>
<circle cx="363.8" cy="248.1" r="1.45"/>
<circle cx="363.9" cy="248.2" r="1.45"/>
<circle cx="364.0" cy="248.4" r="1.45"/>
<circle cx="364.1" cy="248.1" r="1.45"/>
<circle cx="364.2" cy="248.1" r="1.45"/>
<circle cx="364.4" cy="248.6" r="1.45"/>
<circle cx="364.5" cy="247.9" r="1.45"/>
<circle cx="364.6" cy="248.4" r="1.45"/>
<circle cx="364.7" cy="248.1" r="1.45"/>
<circle cx="364.8" cy="248.5" r="1.45"/>
<circle cx="364.9" cy="247.9" r="1.45"/>
<circle cx="365.0" cy="248.8" r="1.45"/>
<circle cx="365.1" cy="248.2" r="1.45"/>
<circle cx="365.3" cy="247.9" r="1.45"/>
<circle cx="365.4" cy="248.1" r="1.45"/>
<circle cx="365.5" cy="248.3" r="1.45"/>
<circle cx="365.6" cy="247.9" r="1.45"/>
<circle cx="365.7" cy="248.4" r="1.45"/>
<circle cx="365.8" cy="248.4" r="1.45"/>
<circle cx="365.9" cy="248.7" r="1.45"/>
<circle cx="366.0" cy="248.4" r="1.45"/>
<circle cx="366.2" cy="248.3" r="1.45"/>
<circle cx="366.3" cy="248.3" r="1.45"/>
<circle cx="366.4" cy="248.8" r="1.45"/>
<circle cx="366.5" cy="249.0" r="1.45"/>
<circle cx="366.6" cy="248.6" r="1.45"/>
<circle cx="366.7" cy="248.4" r="1.45"/>
<circle cx="366.8" cy="249.0" r="1.45"/>
<circle cx="366.9" cy="248.6" r="1.45"/>
<circle cx="367.0" cy="248.4" r="1.45"/>
<circle cx="367.2" cy="248.4" r="1.45"/>
<circle cx="367.3" cy="249.0" r="1.45"/>
<circle cx="367.4" cy="249.1" r="1.45"/>
<circle cx="367.5" cy="248.9" r="1.45"/>
<circle cx="367.6" cy="248.8" r="1.45"/>
<circle cx="367.7" cy="248.9" r="1.45"/>
<circle cx="367.8" cy="248.6" r="1.45"/>
<circle cx="367.9" cy="249.3" r="1.45"/>
<circle cx="368.0" cy="248.8" r="1.45"/>
<circle cx="368.1" cy="249.1" r="1.45"/>
<circle cx="368.3" cy="249.3" r="1.45"/>
<circle cx="368.4" cy="249.3" r="1.45"/>
<circle cx="368.5" cy="249.0" r="1.45"/>
<circle cx="368.6" cy="248.8" r="1.45"/>
<circle cx="368.7" cy="249.1" r="1.45"/>
<circle cx="368.8" cy="248.7" r="1.45"/>
<circle cx="368.9" cy="249.4" r="1.45"/>
<circle cx="369.0" cy="249.0" r="1.45"/>
<circle cx="369.1" cy="249.5" r="1.45"/>
<circle cx="369.2" cy="248.9" r="1.45"/>
<circle cx="369.3" cy="249.0" r="1.45"/>
<circle cx="369.4" cy="248.9" r="1.45"/>
<circle cx="369.5" cy="249.1" r="1.45"/>
<circle cx="369.7" cy="248.9" r="1.45"/>
<circle cx="369.8" cy="248.7" r="1.45"/>
<circle cx="369.9" cy="249.4" r="1.45"/>
<circle cx="370.0" cy="249.0" r="1.45"/>
<circle cx="370.1" cy="249.0" r="1.45"/>
<circle cx="370.2" cy="249.1" r="1.45"/>
<circle cx="370.3" cy="249.3" r="1.45"/>
<circle cx="370.4" cy="249.2" r="1.45"/>
<circle cx="370.5" cy="249.4" r="1.45"/>
<circle cx="370.6" cy="249.5" r="1.45"/>
<circle cx="370.7" cy="249.2" r="1.45"/>
<circle cx="370.8" cy="249.8" r="1.45"/>
<circle cx="370.9" cy="249.7" r="1.45"/>
<circle cx="371.0" cy="248.9" r="1.45"/>
<circle cx="371.1" cy="249.7" r="1.45"/>
<circle cx="371.2" cy="249.8" r="1.45"/>
<circle cx="371.3" cy="249.7" r="1.45"/>
<circle cx="371.4" cy="249.1" r="1.45"/>
<circle cx="371.5" cy="249.8" r="1.45"/>
<circle cx="371.7" cy="249.6" r="1.45"/>
<circle cx="371.8" cy="249.0" r="1.45"/>
<circle cx="371.9" cy="249.0" r="1.45"/>
<circle cx="372.0" cy="250.0" r="1.45"/>
<circle cx="372.1" cy="249.7" r="1.45"/>
<circle cx="372.2" cy="249.3" r="1.45"/>
<circle cx="372.3" cy="249.2" r="1.45"/>
<circle cx="372.4" cy="249.2" r="1.45"/>
<circle cx="372.5" cy="249.3" r="1.45"/>
<circle cx="372.6" cy="249.9" r="1.45"/>
<circle cx="372.7" cy="249.5" r="1.45"/>
<circle cx="372.8" cy="249.3" r="1.45"/>
<circle cx="372.9" cy="250.0" r="1.45"/>
<circle cx="373.0" cy="250.0" r="1.45"/>
<circle cx="373.1" cy="249.3" r="1.45"/>
<circle cx="373.2" cy="250.1" r="1.45"/>
<circle cx="373.3" cy="249.8" r="1.45"/>
<circle cx="373.4" cy="250.0" r="1.45"/>
<circle cx="373.5" cy="249.9" r="1.45"/>
<circle cx="373.6" cy="250.1" r="1.45"/>
<circle cx="373.7" cy="250.0" r="1.45"/>
<circle cx="373.8" cy="250.1" r="1.45"/>
<circle cx="373.9" cy="249.5" r="1.45"/>
<circle cx="374.0" cy="250.0" r="1.45"/>
<circle cx="374.1" cy="249.8" r="1.45"/>
<circle cx="374.2" cy="250.1" r="1.45"/>
<circle cx="374.3" cy="249.8" r="1.45"/>
<circle cx="374.4" cy="250.2" r="1.45"/>
<circle cx="374.5" cy="249.9" r="1.45"/>
<circle cx="374.6" cy="249.6" r="1.45"/>
<circle cx="374.7" cy="249.6" r="1.45"/>
<circle cx="374.8" cy="249.6" r="1.45"/>
<circle cx="374.9" cy="249.9" r="1.45"/>
<circle cx="375.0" cy="249.5" r="1.45"/>
<circle cx="375.1" cy="249.9" r="1.45"/>
<circle cx="375.2" cy="249.6" r="1.45"/>
<circle cx="375.3" cy="250.0" r="1.45"/>
<circle cx="375.4" cy="250.0" r="1.45"/>
<circle cx="375.5" cy="250.0" r="1.45"/>
<circle cx="375.6" cy="250.4" r="1.45"/>
<circle cx="375.7" cy="249.5" r="1.45"/>
<circle cx="375.8" cy="250.4" r="1.45"/>
<circle cx="375.9" cy="250.0" r="1.45"/>
<circle cx="376.0" cy="250.1" r="1.45"/>
<circle cx="376.1" cy="250.3" r="1.45"/>
<circle cx="376.2" cy="250.4" r="1.45"/>
<circle cx="376.3" cy="250.0" r="1.45"/>
<circle cx="376.4" cy="250.1" r="1.45"/>
<circle cx="376.5" cy="250.6" r="1.45"/>
<circle cx="376.6" cy="249.7" r="1.45"/>
<circle cx="376.7" cy="250.3" r="1.45"/>
<circle cx="376.8" cy="250.3" r="1.45"/>
<circle cx="376.9" cy="249.7" r="1.45"/>
<circle cx="377.0" cy="250.3" r="1.45"/>
<circle cx="377.1" cy="250.4" r="1.45"/>
<circle cx="377.2" cy="250.7" r="1.45"/>
<circle cx="377.3" cy="250.1" r="1.45"/>
<circle cx="377.4" cy="250.8" r="1.45"/>
<circle cx="377.5" cy="250.3" r="1.45"/>
<circle cx="377.5" cy="250.3" r="1.45"/>
<circle cx="377.6" cy="250.7" r="1.45"/>
<circle cx="377.7" cy="249.9" r="1.45"/>
<circle cx="377.8" cy="250.6" r="1.45"/>
<circle cx="377.9" cy="250.5" r="1.45"/>
<circle cx="378.0" cy="250.2" r="1.45"/>
<circle cx="378.1" cy="250.7" r="1.45"/>
<circle cx="378.2" cy="250.3" r="1.45"/>
<circle cx="378.3" cy="250.4" r="1.45"/>
<circle cx="378.4" cy="250.4" r="1.45"/>
<circle cx="378.5" cy="250.7" r="1.45"/>
<circle cx="378.6" cy="250.2" r="1.45"/>
<circle cx="378.7" cy="250.4" r="1.45"/>
<circle cx="378.8" cy="250.4" r="1.45"/>
<circle cx="378.9" cy="250.5" r="1.45"/>
<circle cx="379.0" cy="250.8" r="1.45"/>
<circle cx="379.1" cy="250.3" r="1.45"/>
<circle cx="379.2" cy="250.8" r="1.45"/>
<circle cx="379.3" cy="250.4" r="1.45"/>
<circle cx="379.4" cy="250.5" r="1.45"/>
<circle cx="379.4" cy="250.3" r="1.45"/>
<circle cx="379.5" cy="250.5" r="1.45"/>
<circle cx="379.6" cy="251.0" r="1.45"/>
<circle cx="379.7" cy="250.7" r="1.45"/>
<circle cx="379.8" cy="250.8" r="1.45"/>
<circle cx="379.9" cy="250.4" r="1.45"/>
<circle cx="380.0" cy="250.4" r="1.45"/>
<circle cx="380.1" cy="250.4" r="1.45"/>
<circle cx="380.2" cy="250.7" r="1.45"/>
<circle cx="380.3" cy="250.7" r="1.45"/>
<circle cx="380.4" cy="250.9" r="1.45"/>
<circle cx="380.5" cy="250.1" r="1.45"/>
<circle cx="380.6" cy="250.8" r="1.45"/>
<circle cx="380.7" cy="251.0" r="1.45"/>
<circle cx="380.7" cy="250.7" r="1.45"/>
<circle cx="380.8" cy="250.2" r="1.45"/>
<circle cx="380.9" cy="250.4" r="1.45"/>
<circle cx="381.0" cy="250.1" r="1.45"/>
<circle cx="381.1" cy="250.3" r="1.45"/>
<circle cx="381.2" cy="251.1" r="1.45"/>
<circle cx="381.3" cy="250.8" r="1.45"/>
<circle cx="381.4" cy="250.8" r="1.45"/>
<circle cx="381.5" cy="251.0" r="1.45"/>
<circle cx="381.6" cy="251.1" r="1.45"/>
<circle cx="381.7" cy="250.8" r="1.45"/>
<circle cx="381.8" cy="250.8" r="1.45"/>
<circle cx="381.8" cy="250.8" r="1.45"/>
<circle cx="381.9" cy="250.9" r="1.45"/>
<circle cx="382.0" cy="250.8" r="1.45"/>
<circle cx="382.1" cy="250.9" r="1.45"/>
<circle cx="382.2" cy="250.4" r="1.45"/>
<circle cx="382.3" cy="250.9" r="1.45"/>
<circle cx="382.4" cy="250.7" r="1.45"/>
<circle cx="382.5" cy="251.0" r="1.45"/>
<circle cx="382.6" cy="250.4" r="1.45"/>
<circle cx="382.7" cy="250.4" r="1.45"/>
<circle cx="382.7" cy="250.3" r="1.45"/>
<circle cx="382.8" cy="251.0" r="1.45"/>
<circle cx="382.9" cy="251.2" r="1.45"/>
<circle cx="383.0" cy="250.9" r="1.45"/>
<circle cx="383.1" cy="250.7" r="1.45"/>
<circle cx="383.2" cy="251.1" r="1.45"/>
<circle cx="383.3" cy="251.1" r="1.45"/>
<circle cx="383.4" cy="250.9" r="1.45"/>
<circle cx="383.5" cy="250.6" r="1.45"/>
<circle cx="383.6" cy="250.6" r="1.45"/>
<circle cx="383.6" cy="250.7" r="1.45"/>
<circle cx="383.7" cy="250.6" r="1.45"/>
<circle cx="383.8" cy="250.8" r="1.45"/>
<circle cx="383.9" cy="251.0" r="1.45"/>
<circle cx="384.0" cy="251.3" r="1.45"/>
<circle cx="384.1" cy="250.4" r="1.45"/>
<circle cx="384.2" cy="250.9" r="1.45"/>
<circle cx="384.3" cy="250.4" r="1.45"/>
<circle cx="384.3" cy="250.5" r="1.45"/>
<circle cx="384.4" cy="251.2" r="1.45"/>
<circle cx="384.5" cy="251.0" r="1.45"/>
<circle cx="384.6" cy="251.3" r="1.45"/>
<circle cx="384.7" cy="250.8" r="1.45"/>
<circle cx="384.8" cy="250.4" r="1.45"/>
<circle cx="384.9" cy="250.8" r="1.45"/>
<circle cx="385.0" cy="251.0" r="1.45"/>
<circle cx="385.0" cy="251.4" r="1.45"/>
<circle cx="385.1" cy="251.4" r="1.45"/>
<circle cx="385.2" cy="250.9" r="1.45"/>
<circle cx="385.3" cy="250.9" r="1.45"/>
<circle cx="385.4" cy="250.5" r="1.45"/>
<circle cx="385.5" cy="251.1" r="1.45"/>
<circle cx="385.6" cy="250.7" r="1.45"/>
<circle cx="385.7" cy="250.6" r="1.45"/>
<circle cx="385.7" cy="250.5" r="1.45"/>
<circle cx="385.8" cy="250.5" r="1.45"/>
<circle cx="385.9" cy="251.2" r="1.45"/>
<circle cx="386.0" cy="250.6" r="1.45"/>
<circle cx="386.1" cy="251.5" r="1.45"/>
<circle cx="386.2" cy="250.6" r="1.45"/>
<circle cx="386.3" cy="251.4" r="1.45"/>
<circle cx="386.3" cy="250.6" r="1.45"/>
<circle cx="386.4" cy="250.5" r="1.45"/>
<circle cx="386.5" cy="251.2" r="1.45"/>
<circle cx="386.6" cy="250.8" r="1.45"/>
<circle cx="386.7" cy="251.3" r="1.45"/>
<circle cx="386.8" cy="250.7" r="1.45"/>
<circle cx="386.9" cy="250.6" r="1.45"/>
<circle cx="386.9" cy="251.3" r="1.45"/>
<circle cx="387.0" cy="251.3" r="1.45"/>
<circle cx="387.1" cy="251.4" r="1.45"/>
<circle cx="387.2" cy="251.3" r="1.45"/>
<circle cx="387.3" cy="250.7" r="1.45"/>
<circle cx="387.4" cy="251.2" r="1.45"/>
<circle cx="387.5" cy="251.3" r="1.45"/>
<circle cx="387.5" cy="251.1" r="1.45"/>
<circle cx="387.6" cy="251.5" r="1.45"/>
<circle cx="387.7" cy="250.9" r="1.45"/>
<circle cx="387.8" cy="251.6" r="1.45"/>
<circle cx="387.9" cy="251.3" r="1.45"/>
<circle cx="388.0" cy="250.6" r="1.45"/>
<circle cx="388.0" cy="250.6" r="1.45"/>
<circle cx="388.1" cy="251.3" r="1.45"/>
<circle cx="388.2" cy="251.5" r="1.45"/>
<circle cx="388.3" cy="250.7" r="1.45"/>
<circle cx="388.4" cy="251.0" r="1.45"/>
<circle cx="388.5" cy="251.4" r="1.45"/>
<circle cx="388.5" cy="250.8" r="1.45"/>
<circle cx="388.6" cy="251.5" r="1.45"/>
<circle cx="388.7" cy="251.2" r="1.45"/>
<circle cx="388.8" cy="250.7" r="1.45"/>
<circle cx="388.9" cy="251.1" r="1.45"/>
<circle cx="389.0" cy="251.3" r="1.45"/>
<circle cx="389.0" cy="251.1" r="1.45"/>
<circle cx="389.1" cy="251.4" r="1.45"/>
<circle cx="389.2" cy="250.9" r="1.45"/>
<circle cx="389.3" cy="251.5" r="1.45"/>
<circle cx="389.4" cy="251.1" r="1.45"/>
<circle cx="389.5" cy="251.4" r="1.45"/>
<circle cx="389.5" cy="251.4" r="1.45"/>
<circle cx="389.6" cy="251.2" r="1.45"/>
<circle cx="389.7" cy="251.1" r="1.45"/>
<circle cx="389.8" cy="251.5" r="1.45"/>
<circle cx="389.9" cy="251.7" r="1.45"/>
<circle cx="389.9" cy="251.5" r="1.45"/>
<circle cx="390.0" cy="251.3" r="1.45"/>
<circle cx="390.1" cy="251.1" r="1.45"/>
<circle cx="390.2" cy="250.8" r="1.45"/>
<circle cx="390.3" cy="251.7" r="1.45"/>
<circle cx="390.3" cy="251.5" r="1.45"/>
<circle cx="390.4" cy="251.6" r="1.45"/>
<circle cx="390.5" cy="251.1" r="1.45"/>
<circle cx="390.6" cy="251.4" r="1.45"/>
<circle cx="390.7" cy="251.8" r="1.45"/>
<circle cx="390.8" cy="251.6" r="1.45"/>
<circle cx="390.8" cy="251.4" r="1.45"/>
<circle cx="390.9" cy="251.1" r="1.45"/>
<circle cx="391.0" cy="251.2" r="1.45"/>
<circle cx="391.1" cy="251.7" r="1.45"/>
<circle cx="391.2" cy="251.2" r="1.45"/>
<circle cx="391.2" cy="251.5" r="1.45"/>
<circle cx="391.3" cy="251.4" r="1.45"/>
<circle cx="391.4" cy="251.7" r="1.45"/>
<circle cx="391.5" cy="251.6" r="1.45"/>
<circle cx="391.6" cy="251.1" r="1.45"/>
<circle cx="391.6" cy="250.9" r="1.45"/>
<circle cx="391.7" cy="251.1" r="1.45"/>
<circle cx="391.8" cy="251.3" r="1.45"/>
<circle cx="391.9" cy="251.5" r="1.45"/>
<circle cx="392.0" cy="251.7" r="1.45"/>
<circle cx="392.0" cy="251.8" r="1.45"/>
<circle cx="392.1" cy="250.9" r="1.45"/>
<circle cx="392.2" cy="251.7" r="1.45"/>
<circle cx="392.3" cy="251.7" r="1.45"/>
<circle cx="392.4" cy="251.8" r="1.45"/>
<circle cx="392.4" cy="251.5" r="1.45"/>
<circle cx="392.5" cy="251.2" r="1.45"/>
<circle cx="392.6" cy="251.8" r="1.45"/>
<circle cx="392.7" cy="251.7" r="1.45"/>
<circle cx="392.7" cy="251.6" r="1.45"/>
<circle cx="392.8" cy="251.8" r="1.45"/>
<circle cx="392.9" cy="251.3" r="1.45"/>
<circle cx="393.0" cy="251.0" r="1.45"/>
<circle cx="393.1" cy="251.5" r="1.45"/>
<circle cx="393.1" cy="251.7" r="1.45"/>
<circle cx="393.2" cy="251.1" r="1.45"/>
<circle cx="393.3" cy="251.7" r="1.45"/>
<circle cx="393.4" cy="251.9" r="1.45"/>
<circle cx="393.5" cy="251.2" r="1.45"/>
<circle cx="393.5" cy="251.6" r="1.45"/>
<circle cx="393.6" cy="251.6" r="1.45"/>
<circle cx="393.7" cy="251.4" r="1.45"/>
<circle cx="393.8" cy="251.2" r="1.45"/>
<circle cx="393.8" cy="251.2" r="1.45"/>
<circle cx="393.9" cy="251.7" r="1.45"/>
<circle cx="394.0" cy="251.8" r="1.45"/>
<circle cx="394.1" cy="251.4" r="1.45"/>
<circle cx="394.2" cy="251.1" r="1.45"/>
<circle cx="394.2" cy="251.8" r="1.45"/>
<circle cx="394.3" cy="251.8" r="1.45"/>
<circle cx="394.4" cy="251.2" r="1.45"/>
<circle cx="394.5" cy="251.6" r="1.45"/>
<circle cx="394.5" cy="251.9" r="1.45"/>
<circle cx="394.6" cy="251.9" r="1.45"/>
<circle cx="394.7" cy="251.5" r="1.45"/>
<circle cx="394.8" cy="251.5" r="1.45"/>
<circle cx="394.8" cy="251.6" r="1.45"/>
<circle cx="394.9" cy="251.2" r="1.45"/>
<circle cx="395.0" cy="251.2" r="1.45"/>
<circle cx="395.1" cy="251.2" r="1.45"/>
<circle cx="395.2" cy="251.8" r="1.45"/>
<circle cx="395.2" cy="251.4" r="1.45"/>
</g>
<circle cx="395.9" cy="252.5" r="1.9" fill="none" stroke="#008b00" stroke-width="1.15"/>
</g>
<path d="M272.7 31.5H302.5" stroke="#000" stroke-width="1.5"/>
<path d="M272.7 53.5H302.5" stroke="#f00" stroke-width="1.5" stroke-dasharray="5.8 2.9"/>
<circle cx="287.6" cy="75.5" r="1.9" fill="none" stroke="#008b00" stroke-width="1"/>
<path d="M272.7 97.4H302.5" stroke="#00f" stroke-width="2.6" stroke-dasharray="2.6 6.2"/>
<circle cx="287.6" cy="119.4" r="1.3" fill="#ffa500"/>
<g font-family="Liberation Serif, serif" font-size="20.3" fill="#000">
<text x="310" y="36.3">y = 0</text>
<text x="310" y="58.1">y = 1.30</text>
<text x="310" y="80.0">y = 2.59</text>
<text x="310" y="101.9">y = 3.89</text>
<text x="310" y="123.7">y = 5.18</text>
<text x="46.5" y="261.8" text-anchor="end">0</text>
<text x="46.5" y="222.6" text-anchor="end">2</text>
<text x="46.5" y="183.5" text-anchor="end">4</text>
<text x="46.5" y="144.3" text-anchor="end">6</text>
<text x="46.5" y="105.1" text-anchor="end">8</text>
<text x="46.5" y="66.0" text-anchor="end">10</text>
<text x="46.5" y="26.8" text-anchor="end">12</text>
<text x="100.4" y="272.6" text-anchor="middle">0.25</text>
<text x="153.2" y="272.6" text-anchor="middle">0.5</text>
<text x="206.0" y="272.6" text-anchor="middle">1</text>
<text x="258.8" y="272.6" text-anchor="middle">2</text>
<text x="311.6" y="272.6" text-anchor="middle">4</text>
<text x="365.4" y="272.6" text-anchor="middle">8</text>
<text x="205.9" y="290.1" font-size="19.7">k/Q<tspan font-size="14" dy="8">s</tspan></text>
<text transform="translate(13.8 147) rotate(-90)" font-size="19.2">C(k<tspan font-size="13.6" dy="8">T</tspan><tspan dy="-8">)</tspan></text>
</g>
</svg>
</body></html>
